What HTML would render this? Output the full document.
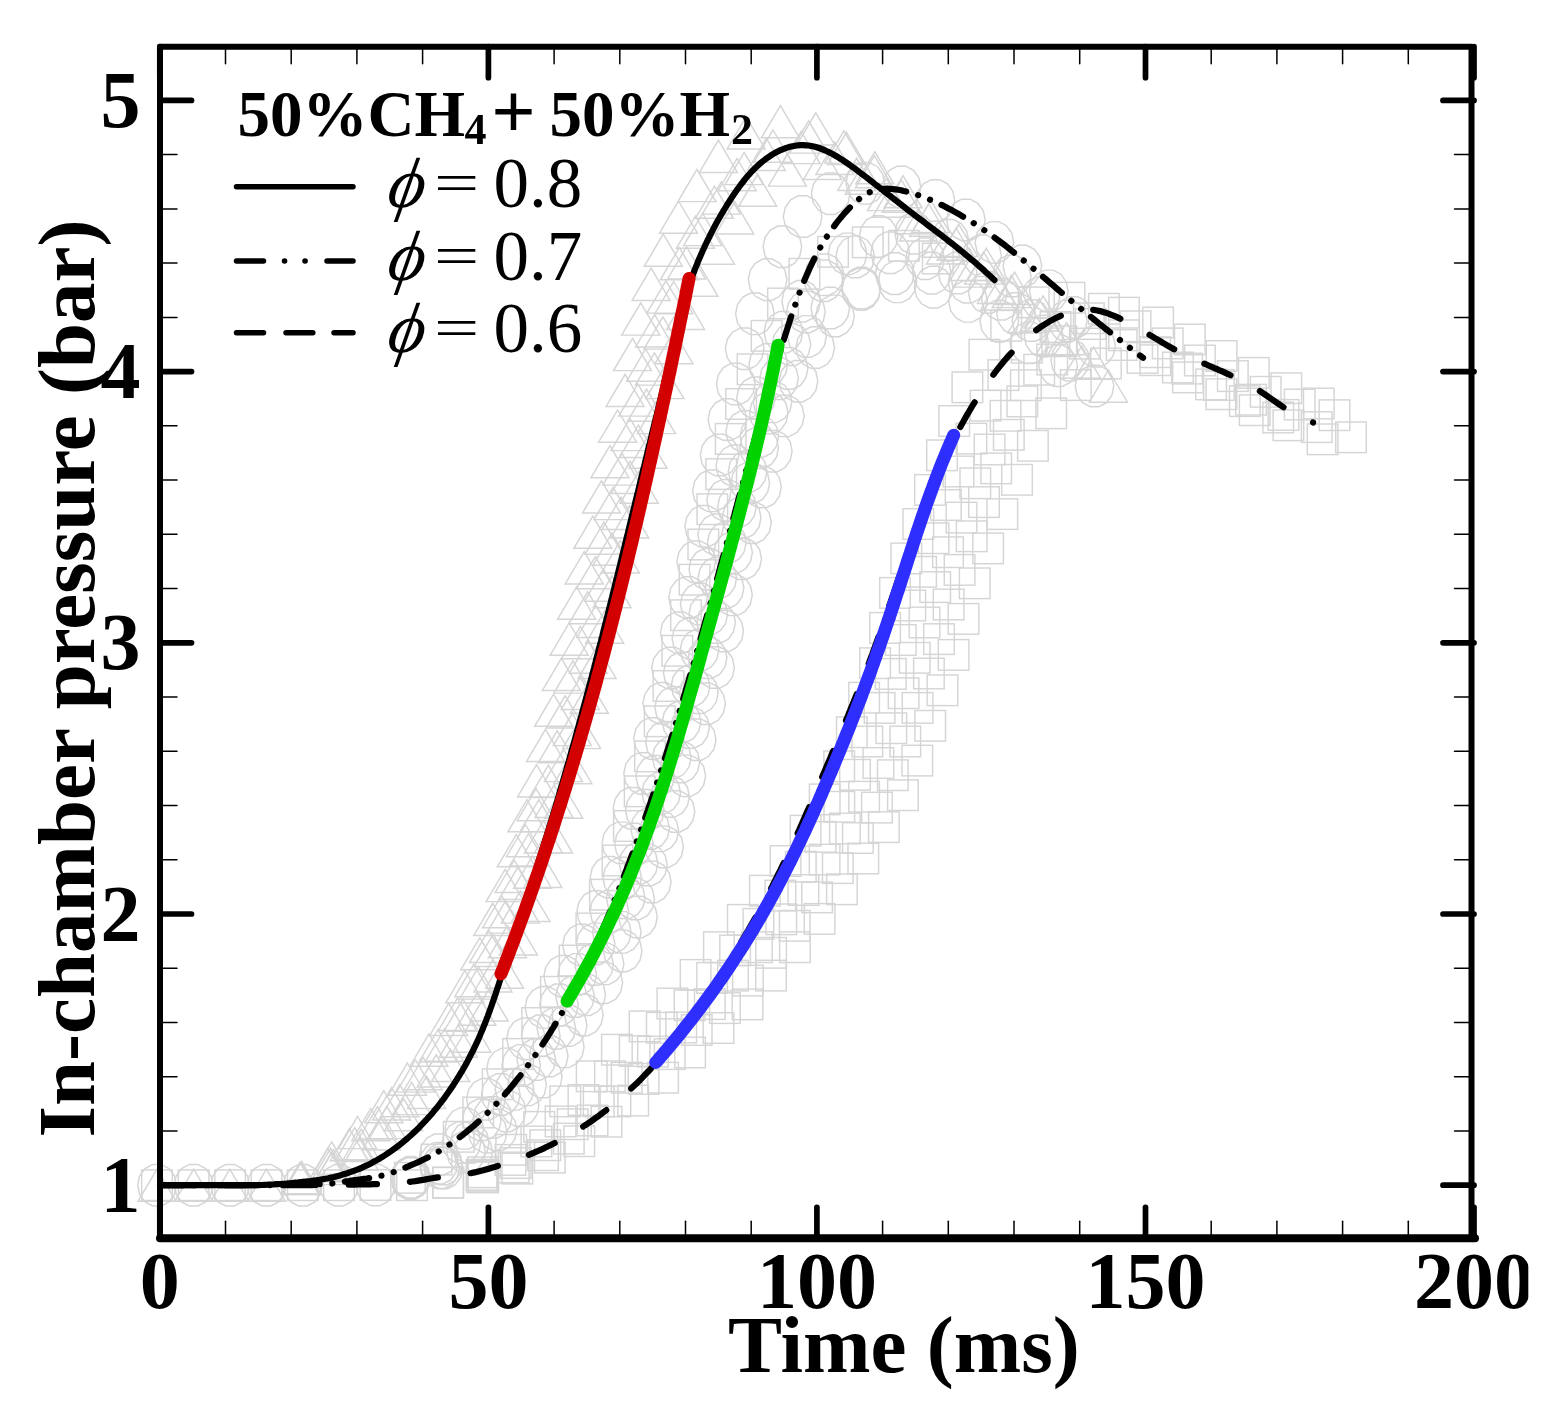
<!DOCTYPE html><html><head><meta charset="utf-8"><title>In-chamber pressure</title><style>html,body{margin:0;padding:0;background:#fff;}svg{display:block;}text{font-family:"Liberation Serif","DejaVu Serif",serif;}</style></head><body>
<svg width="1562" height="1414" viewBox="0 0 1562 1414">
<rect width="1562" height="1414" fill="#fff"/>
<g fill="none" stroke="#d5d5d5" stroke-width="1.45">
<path d="M157.0 1169.1L176.0 1201.3L138.0 1201.3Z"/>
<path d="M193.7 1169.1L212.7 1201.3L174.7 1201.3Z"/>
<path d="M229.8 1169.1L248.8 1201.3L210.8 1201.3Z"/>
<path d="M266.4 1169.1L285.4 1201.3L247.4 1201.3Z"/>
<path d="M301.6 1161.4L320.6 1193.6L282.6 1193.6Z"/>
<path d="M331.7 1141.9L350.7 1174.1L312.7 1174.1Z"/>
<path d="M357.5 1116.4L376.5 1148.6L338.5 1148.6Z"/>
<path d="M383.8 1090.6L402.8 1122.8L364.8 1122.8Z"/>
<path d="M407.4 1063.0L426.4 1095.2L388.4 1095.2Z"/>
<path d="M428.9 1034.0L447.9 1066.2L409.9 1066.2Z"/>
<path d="M448.7 1003.3L467.7 1035.5L429.7 1035.5Z"/>
<path d="M464.9 970.5L483.9 1002.7L445.9 1002.7Z"/>
<path d="M479.8 937.6L498.8 969.8L460.8 969.8Z"/>
<path d="M492.7 903.3L511.7 935.5L473.7 935.5Z"/>
<path d="M505.1 869.4L524.1 901.6L486.1 901.6Z"/>
<path d="M516.3 834.6L535.3 866.8L497.3 866.8Z"/>
<path d="M526.9 799.6L545.9 831.8L507.9 831.8Z"/>
<path d="M536.5 764.7L555.5 796.9L517.5 796.9Z"/>
<path d="M545.5 729.3L564.5 761.5L526.5 761.5Z"/>
<path d="M553.6 694.1L572.6 726.3L534.6 726.3Z"/>
<path d="M561.4 658.3L580.4 690.5L542.4 690.5Z"/>
<path d="M569.2 623.0L588.2 655.2L550.2 655.2Z"/>
<path d="M576.6 587.0L595.6 619.2L557.6 619.2Z"/>
<path d="M584.2 551.7L603.2 583.9L565.2 583.9Z"/>
<path d="M592.8 516.1L611.8 548.3L573.8 548.3Z"/>
<path d="M601.5 480.8L620.5 513.0L582.5 513.0Z"/>
<path d="M609.9 445.6L628.9 477.8L590.9 477.8Z"/>
<path d="M617.6 410.0L636.6 442.2L598.6 442.2Z"/>
<path d="M625.1 374.3L644.1 406.5L606.1 406.5Z"/>
<path d="M632.5 338.4L651.5 370.6L613.5 370.6Z"/>
<path d="M640.7 302.9L659.7 335.1L621.7 335.1Z"/>
<path d="M651.1 268.2L670.1 300.4L632.1 300.4Z"/>
<path d="M663.3 234.0L682.3 266.2L644.3 266.2Z"/>
<path d="M678.5 201.0L697.5 233.2L659.5 233.2Z"/>
<path d="M696.9 169.4L715.9 201.6L677.9 201.6Z"/>
<path d="M718.4 140.2L737.4 172.4L699.4 172.4Z"/>
<path d="M746.1 116.7L765.1 148.9L727.1 148.9Z"/>
<path d="M780.4 105.6L799.4 137.8L761.4 137.8Z"/>
<path d="M815.8 112.8L834.8 145.0L796.8 145.0Z"/>
<path d="M846.5 132.3L865.5 164.5L827.5 164.5Z"/>
<path d="M874.4 155.6L893.4 187.8L855.4 187.8Z"/>
<path d="M901.4 180.0L920.4 212.2L882.4 212.2Z"/>
<path d="M928.8 204.0L947.8 236.2L909.8 236.2Z"/>
<path d="M956.1 228.0L975.1 260.2L937.1 260.2Z"/>
<path d="M983.6 251.9L1002.6 284.1L964.6 284.1Z"/>
<path d="M1011.3 275.4L1030.3 307.6L992.3 307.6Z"/>
<path d="M1039.1 298.8L1058.1 331.0L1020.1 331.0Z"/>
<path d="M1066.6 322.6L1085.6 354.8L1047.6 354.8Z"/>
<path d="M1093.5 347.1L1112.5 379.3L1074.5 379.3Z"/>
<path d="M300.8 1162.4L319.8 1194.6L281.8 1194.6Z"/>
<path d="M330.6 1148.3L349.6 1180.5L311.6 1180.5Z"/>
<path d="M354.7 1127.6L373.7 1159.8L335.7 1159.8Z"/>
<path d="M377.5 1106.7L396.5 1138.9L358.5 1138.9Z"/>
<path d="M399.8 1084.6L418.8 1116.8L380.8 1116.8Z"/>
<path d="M423.2 1057.5L442.2 1089.7L404.2 1089.7Z"/>
<path d="M444.5 1029.0L463.5 1061.2L425.5 1061.2Z"/>
<path d="M463.0 999.0L482.0 1031.2L444.0 1031.2Z"/>
<path d="M478.5 966.9L497.5 999.1L459.5 999.1Z"/>
<path d="M493.1 934.3L512.1 966.5L474.1 966.5Z"/>
<path d="M505.6 900.9L524.6 933.1L486.6 933.1Z"/>
<path d="M517.8 867.3L536.8 899.5L498.8 899.5Z"/>
<path d="M528.5 833.7L547.5 865.9L509.5 865.9Z"/>
<path d="M538.9 799.6L557.9 831.8L519.9 831.8Z"/>
<path d="M548.4 765.2L567.4 797.4L529.4 797.4Z"/>
<path d="M557.2 730.6L576.2 762.8L538.2 762.8Z"/>
<path d="M565.2 695.8L584.2 728.0L546.2 728.0Z"/>
<path d="M572.9 660.9L591.9 693.1L553.9 693.1Z"/>
<path d="M580.4 626.5L599.4 658.7L561.4 658.7Z"/>
<path d="M587.7 591.6L606.7 623.8L568.7 623.8Z"/>
<path d="M595.3 556.6L614.3 588.8L576.3 588.8Z"/>
<path d="M603.9 522.1L622.9 554.3L584.9 554.3Z"/>
<path d="M613.0 487.4L632.0 519.6L594.0 519.6Z"/>
<path d="M621.8 452.9L640.8 485.1L602.8 485.1Z"/>
<path d="M629.9 418.4L648.9 450.6L610.9 450.6Z"/>
<path d="M637.8 383.9L656.8 416.1L618.8 416.1Z"/>
<path d="M645.6 349.0L664.6 381.2L626.6 381.2Z"/>
<path d="M654.6 314.7L673.6 346.9L635.6 346.9Z"/>
<path d="M665.9 280.9L684.9 313.1L646.9 313.1Z"/>
<path d="M679.3 247.6L698.3 279.8L660.3 279.8Z"/>
<path d="M695.4 216.1L714.4 248.3L676.4 248.3Z"/>
<path d="M714.4 186.1L733.4 218.3L695.4 218.3Z"/>
<path d="M737.1 158.5L756.1 190.7L718.1 190.7Z"/>
<path d="M766.4 138.3L785.4 170.5L747.4 170.5Z"/>
<path d="M801.1 131.4L820.1 163.6L782.1 163.6Z"/>
<path d="M834.9 142.3L853.9 174.5L815.9 174.5Z"/>
<path d="M864.1 162.1L883.1 194.3L845.1 194.3Z"/>
<path d="M891.3 185.0L910.3 217.2L872.3 217.2Z"/>
<path d="M918.4 208.7L937.4 240.9L899.4 240.9Z"/>
<path d="M945.5 231.8L964.5 264.0L926.5 264.0Z"/>
<path d="M972.4 254.9L991.4 287.1L953.4 287.1Z"/>
<path d="M999.6 277.8L1018.6 310.0L980.6 310.0Z"/>
<path d="M1027.0 300.5L1046.0 332.7L1008.0 332.7Z"/>
<path d="M1054.5 323.1L1073.5 355.3L1035.5 355.3Z"/>
<path d="M1081.6 346.1L1100.6 378.3L1062.6 378.3Z"/>
<path d="M1108.4 370.0L1127.4 402.2L1089.4 402.2Z"/>
<path d="M333.7 1149.5L352.7 1181.7L314.7 1181.7Z"/>
<path d="M361.2 1129.2L380.2 1161.4L342.2 1161.4Z"/>
<path d="M386.8 1106.4L405.8 1138.6L367.8 1138.6Z"/>
<path d="M411.7 1082.4L430.7 1114.6L392.7 1114.6Z"/>
<path d="M436.2 1054.8L455.2 1087.0L417.2 1087.0Z"/>
<path d="M458.3 1025.0L477.3 1057.2L439.3 1057.2Z"/>
<path d="M476.9 993.1L495.9 1025.3L457.9 1025.3Z"/>
<path d="M492.9 959.7L511.9 991.9L473.9 991.9Z"/>
<path d="M507.4 925.6L526.4 957.8L488.4 957.8Z"/>
<path d="M520.3 890.9L539.3 923.1L501.3 923.1Z"/>
<path d="M532.6 856.0L551.6 888.2L513.6 888.2Z"/>
<path d="M543.5 820.7L562.5 852.9L524.5 852.9Z"/>
<path d="M554.0 785.2L573.0 817.4L535.0 817.4Z"/>
<path d="M563.5 749.4L582.5 781.6L544.5 781.6Z"/>
<path d="M572.3 713.4L591.3 745.6L553.3 745.6Z"/>
<path d="M580.3 677.3L599.3 709.5L561.3 709.5Z"/>
<path d="M588.3 641.1L607.3 673.3L569.3 673.3Z"/>
<path d="M595.9 605.3L614.9 637.5L576.9 637.5Z"/>
<path d="M603.4 569.1L622.4 601.3L584.4 601.3Z"/>
<path d="M611.9 533.1L630.9 565.3L592.9 565.3Z"/>
<path d="M621.0 497.2L640.0 529.4L602.0 529.4Z"/>
<path d="M630.1 461.3L649.1 493.5L611.1 493.5Z"/>
<path d="M638.5 425.2L657.5 457.4L619.5 457.4Z"/>
<path d="M646.5 389.1L665.5 421.3L627.5 421.3Z"/>
<path d="M654.4 352.9L673.4 385.1L635.4 385.1Z"/>
<path d="M662.9 316.9L681.9 349.1L643.9 349.1Z"/>
<path d="M673.8 281.5L692.8 313.7L654.8 313.7Z"/>
<path d="M686.6 246.8L705.6 279.0L667.6 279.0Z"/>
<path d="M702.6 213.4L721.6 245.6L683.6 245.6Z"/>
<path d="M721.3 181.9L740.3 214.1L702.3 214.1Z"/>
<path d="M744.1 152.4L763.1 184.6L725.1 184.6Z"/>
<path d="M773.0 130.0L792.0 162.2L754.0 162.2Z"/>
<path d="M808.6 120.9L827.6 153.1L789.6 153.1Z"/>
<path d="M843.9 130.9L862.9 163.1L824.9 163.1Z"/>
<path d="M874.8 151.6L893.8 183.8L855.8 183.8Z"/>
<path d="M903.0 175.6L922.0 207.8L884.0 207.8Z"/>
<path d="M930.7 200.2L949.7 232.4L911.7 232.4Z"/>
<path d="M958.8 224.3L977.8 256.5L939.8 256.5Z"/>
<path d="M986.4 248.3L1005.4 280.5L967.4 280.5Z"/>
<path d="M1014.6 272.2L1033.6 304.4L995.6 304.4Z"/>
<path d="M1043.1 295.9L1062.1 328.1L1024.1 328.1Z"/>
<path d="M331.6 1152.4L350.6 1184.6L312.6 1184.6Z"/>
<path d="M359.1 1137.7L378.1 1169.9L340.1 1169.9Z"/>
<path d="M381.4 1117.8L400.4 1150.0L362.4 1150.0Z"/>
<path d="M403.6 1098.6L422.6 1130.8L384.6 1130.8Z"/>
<path d="M426.6 1076.2L445.6 1108.4L407.6 1108.4Z"/>
<path d="M450.6 1049.3L469.6 1081.5L431.6 1081.5Z"/>
<path d="M471.9 1020.0L490.9 1052.2L452.9 1052.2Z"/>
<path d="M489.1 988.8L508.1 1021.0L470.1 1021.0Z"/>
<path d="M504.6 956.1L523.6 988.3L485.6 988.3Z"/>
<path d="M518.4 922.7L537.4 954.9L499.4 954.9Z"/>
<path d="M530.9 889.3L549.9 921.5L511.9 921.5Z"/>
<path d="M542.9 855.2L561.9 887.4L523.9 887.4Z"/>
<path d="M553.5 820.7L572.5 852.9L534.5 852.9Z"/>
<path d="M563.8 786.0L582.8 818.2L544.8 818.2Z"/>
<path d="M572.9 751.5L591.9 783.7L553.9 783.7Z"/>
<path d="M581.6 716.4L600.6 748.6L562.6 748.6Z"/>
<path d="M589.4 681.1L608.4 713.3L570.4 713.3Z"/>
<path d="M597.1 646.3L616.1 678.5L578.1 678.5Z"/>
<path d="M604.7 611.0L623.7 643.2L585.7 643.2Z"/>
<path d="M612.1 575.6L631.1 607.8L593.1 607.8Z"/>
<path d="M620.4 540.7L639.4 572.9L601.4 572.9Z"/>
<path d="M629.7 505.7L648.7 537.9L610.7 537.9Z"/>
<path d="M639.2 471.0L658.2 503.2L620.2 503.2Z"/>
<path d="M648.0 436.1L667.0 468.3L629.0 468.3Z"/>
<path d="M656.4 401.4L675.4 433.6L637.4 433.6Z"/>
<path d="M664.8 366.4L683.8 398.6L645.8 398.6Z"/>
<path d="M673.9 331.5L692.9 363.7L654.9 363.7Z"/>
<path d="M685.6 297.2L704.6 329.4L666.6 329.4Z"/>
<path d="M699.0 264.1L718.0 296.3L680.0 296.3Z"/>
<path d="M715.5 232.0L734.5 264.2L696.5 264.2Z"/>
<path d="M734.8 201.7L753.8 233.9L715.8 233.9Z"/>
<path d="M757.7 174.1L776.7 206.3L738.7 206.3Z"/>
<path d="M787.4 153.9L806.4 186.1L768.4 186.1Z"/>
<path d="M822.5 147.2L841.5 179.4L803.5 179.4Z"/>
<path d="M856.7 158.3L875.7 190.5L837.7 190.5Z"/>
<path d="M886.5 178.4L905.5 210.6L867.5 210.6Z"/>
<path d="M914.3 201.6L933.3 233.8L895.3 233.8Z"/>
<path d="M941.4 225.0L960.4 257.2L922.4 257.2Z"/>
<path d="M969.1 248.2L988.1 280.4L950.1 280.4Z"/>
<path d="M996.4 271.3L1015.4 303.5L977.4 303.5Z"/>
<path d="M299.9 1162.4L318.9 1194.6L280.9 1194.6Z"/>
<path d="M327.8 1148.3L346.8 1180.5L308.8 1180.5Z"/>
<path d="M349.3 1128.6L368.3 1160.8L330.3 1160.8Z"/>
<path d="M370.8 1108.5L389.8 1140.7L351.8 1140.7Z"/>
<path d="M391.6 1087.8L410.6 1120.0L372.6 1120.0Z"/>
<path d="M415.5 1059.9L434.5 1092.1L396.5 1092.1Z"/>
<path d="M438.0 1029.7L457.0 1061.9L419.0 1061.9Z"/>
<path d="M457.4 998.2L476.4 1030.4L438.4 1030.4Z"/>
<path d="M473.7 964.5L492.7 996.7L454.7 996.7Z"/>
<path d="M488.6 930.2L507.6 962.4L469.6 962.4Z"/>
<path d="M501.6 895.5L520.6 927.7L482.6 927.7Z"/>
<path d="M514.2 860.2L533.2 892.4L495.2 892.4Z"/>
<path d="M525.4 824.5L544.4 856.7L506.4 856.7Z"/>
<path d="M536.1 788.6L555.1 820.8L517.1 820.8Z"/>
<path d="M137.7 1185.2L139.6 1176.0L145.0 1168.5L152.7 1164.4L161.3 1164.4L169.0 1168.5L174.4 1176.0L176.3 1185.2L174.4 1194.4L169.0 1201.9L161.3 1206.0L152.7 1206.0L145.0 1201.9L139.6 1194.4Z"/>
<path d="M174.3 1185.2L176.2 1176.0L181.6 1168.5L189.3 1164.4L197.9 1164.4L205.7 1168.5L211.0 1176.0L212.9 1185.2L211.0 1194.4L205.7 1201.9L197.9 1206.0L189.3 1206.0L181.6 1201.9L176.2 1194.4Z"/>
<path d="M210.8 1185.2L212.8 1176.0L218.1 1168.5L225.8 1164.4L234.4 1164.4L242.2 1168.5L247.5 1176.0L249.4 1185.2L247.5 1194.4L242.2 1201.9L234.4 1206.0L225.8 1206.0L218.1 1201.9L212.8 1194.4Z"/>
<path d="M247.2 1185.2L249.1 1176.0L254.5 1168.5L262.2 1164.4L270.8 1164.4L278.6 1168.5L283.9 1176.0L285.8 1185.2L283.9 1194.4L278.6 1201.9L270.8 1206.0L262.2 1206.0L254.5 1201.9L249.1 1194.4Z"/>
<path d="M283.5 1185.2L285.4 1176.0L290.8 1168.5L298.5 1164.4L307.1 1164.4L314.9 1168.5L320.2 1176.0L322.1 1185.2L320.2 1194.4L314.9 1201.9L307.1 1206.0L298.5 1206.0L290.8 1201.9L285.4 1194.4Z"/>
<path d="M319.7 1185.2L321.6 1176.0L327.0 1168.5L334.7 1164.4L343.3 1164.4L351.1 1168.5L356.4 1176.0L358.3 1185.2L356.4 1194.4L351.1 1201.9L343.3 1206.0L334.7 1206.0L327.0 1201.9L321.6 1194.4Z"/>
<path d="M356.2 1185.0L358.1 1175.8L363.5 1168.4L371.2 1164.2L379.8 1164.2L387.6 1168.4L392.9 1175.8L394.8 1185.0L392.9 1194.2L387.6 1201.7L379.8 1205.8L371.2 1205.8L363.5 1201.7L358.1 1194.2Z"/>
<path d="M391.6 1177.2L393.5 1168.0L398.9 1160.6L406.6 1156.5L415.2 1156.5L422.9 1160.6L428.3 1168.0L430.2 1177.2L428.3 1186.5L422.9 1193.9L415.2 1198.0L406.6 1198.0L398.9 1193.9L393.5 1186.5Z"/>
<path d="M419.5 1154.8L421.5 1145.5L426.8 1138.1L434.5 1134.0L443.1 1134.0L450.9 1138.1L456.2 1145.5L458.1 1154.8L456.2 1164.0L450.9 1171.4L443.1 1175.5L434.5 1175.5L426.8 1171.4L421.5 1164.0Z"/>
<path d="M445.0 1128.4L446.9 1119.1L452.3 1111.7L460.0 1107.6L468.6 1107.6L476.3 1111.7L481.7 1119.1L483.6 1128.4L481.7 1137.6L476.3 1145.0L468.6 1149.1L460.0 1149.1L452.3 1145.0L446.9 1137.6Z"/>
<path d="M466.6 1099.2L468.5 1089.9L473.9 1082.5L481.6 1078.4L490.2 1078.4L498.0 1082.5L503.3 1089.9L505.2 1099.2L503.3 1108.4L498.0 1115.8L490.2 1120.0L481.6 1120.0L473.9 1115.8L468.5 1108.4Z"/>
<path d="M486.7 1068.8L488.6 1059.6L493.9 1052.2L501.7 1048.1L510.3 1048.1L518.0 1052.2L523.4 1059.6L525.3 1068.8L523.4 1078.1L518.0 1085.5L510.3 1089.6L501.7 1089.6L493.9 1085.5L488.6 1078.1Z"/>
<path d="M506.7 1038.7L508.6 1029.4L513.9 1022.0L521.7 1017.9L530.3 1017.9L538.0 1022.0L543.4 1029.4L545.3 1038.7L543.4 1047.9L538.0 1055.3L530.3 1059.4L521.7 1059.4L513.9 1055.3L508.6 1047.9Z"/>
<path d="M525.1 1007.3L527.0 998.1L532.4 990.7L540.1 986.5L548.7 986.5L556.5 990.7L561.8 998.1L563.7 1007.3L561.8 1016.6L556.5 1024.0L548.7 1028.1L540.1 1028.1L532.4 1024.0L527.0 1016.6Z"/>
<path d="M543.9 976.1L545.8 966.9L551.1 959.5L558.9 955.4L567.5 955.4L575.2 959.5L580.6 966.9L582.5 976.1L580.6 985.4L575.2 992.8L567.5 996.9L558.9 996.9L551.1 992.8L545.8 985.4Z"/>
<path d="M562.7 945.0L564.6 935.8L570.0 928.4L577.7 924.3L586.3 924.3L594.0 928.4L599.4 935.8L601.3 945.0L599.4 954.3L594.0 961.7L586.3 965.8L577.7 965.8L570.0 961.7L564.6 954.3Z"/>
<path d="M576.9 911.5L578.8 902.3L584.2 894.9L591.9 890.8L600.5 890.8L608.2 894.9L613.6 902.3L615.5 911.5L613.6 920.8L608.2 928.2L600.5 932.3L591.9 932.3L584.2 928.2L578.8 920.8Z"/>
<path d="M590.2 877.3L592.2 868.0L597.5 860.6L605.2 856.5L613.8 856.5L621.6 860.6L626.9 868.0L628.8 877.3L626.9 886.5L621.6 893.9L613.8 898.0L605.2 898.0L597.5 893.9L592.2 886.5Z"/>
<path d="M602.1 842.9L604.0 833.6L609.4 826.2L617.1 822.1L625.7 822.1L633.4 826.2L638.8 833.6L640.7 842.9L638.8 852.1L633.4 859.5L625.7 863.6L617.1 863.6L609.4 859.5L604.0 852.1Z"/>
<path d="M613.2 808.2L615.1 799.0L620.4 791.6L628.2 787.5L636.8 787.5L644.5 791.6L649.8 799.0L651.8 808.2L649.8 817.5L644.5 824.9L636.8 829.0L628.2 829.0L620.4 824.9L615.1 817.5Z"/>
<path d="M623.8 773.4L625.7 764.2L631.0 756.8L638.8 752.7L647.4 752.7L655.1 756.8L660.5 764.2L662.4 773.4L660.5 782.7L655.1 790.1L647.4 794.2L638.8 794.2L631.0 790.1L625.7 782.7Z"/>
<path d="M633.7 738.5L635.7 729.2L641.0 721.8L648.8 717.7L657.3 717.7L665.1 721.8L670.4 729.2L672.3 738.5L670.4 747.7L665.1 755.1L657.3 759.2L648.8 759.2L641.0 755.1L635.7 747.7Z"/>
<path d="M642.9 703.3L644.9 694.0L650.2 686.6L658.0 682.5L666.5 682.5L674.3 686.6L679.6 694.0L681.5 703.3L679.6 712.5L674.3 719.9L666.5 724.0L658.0 724.0L650.2 719.9L644.9 712.5Z"/>
<path d="M651.7 668.0L653.6 658.7L659.0 651.3L666.7 647.2L675.3 647.2L683.1 651.3L688.4 658.7L690.3 668.0L688.4 677.2L683.1 684.6L675.3 688.8L666.7 688.8L659.0 684.6L653.6 677.2Z"/>
<path d="M660.5 632.7L662.4 623.4L667.7 616.0L675.5 611.9L684.1 611.9L691.8 616.0L697.2 623.4L699.1 632.7L697.2 641.9L691.8 649.3L684.1 653.5L675.5 653.5L667.7 649.3L662.4 641.9Z"/>
<path d="M668.8 597.4L670.7 588.2L676.0 580.8L683.8 576.7L692.4 576.7L700.1 580.8L705.5 588.2L707.4 597.4L705.5 606.7L700.1 614.1L692.4 618.2L683.8 618.2L676.0 614.1L670.7 606.7Z"/>
<path d="M676.9 561.6L678.8 552.4L684.2 545.0L691.9 540.9L700.5 540.9L708.2 545.0L713.6 552.4L715.5 561.6L713.6 570.9L708.2 578.3L700.5 582.4L691.9 582.4L684.2 578.3L678.8 570.9Z"/>
<path d="M684.9 526.2L686.8 517.0L692.1 509.6L699.9 505.4L708.5 505.4L716.2 509.6L721.6 517.0L723.5 526.2L721.6 535.5L716.2 542.9L708.5 547.0L699.9 547.0L692.1 542.9L686.8 535.5Z"/>
<path d="M692.6 490.8L694.5 481.6L699.9 474.1L707.6 470.0L716.2 470.0L724.0 474.1L729.3 481.6L731.2 490.8L729.3 500.0L724.0 507.5L716.2 511.6L707.6 511.6L699.9 507.5L694.5 500.0Z"/>
<path d="M700.3 455.0L702.2 445.8L707.6 438.4L715.3 434.3L723.9 434.3L731.7 438.4L737.0 445.8L738.9 455.0L737.0 464.3L731.7 471.7L723.9 475.8L715.3 475.8L707.6 471.7L702.2 464.3Z"/>
<path d="M708.1 419.5L710.0 410.3L715.4 402.9L723.1 398.8L731.7 398.8L739.4 402.9L744.8 410.3L746.7 419.5L744.8 428.8L739.4 436.2L731.7 440.3L723.1 440.3L715.4 436.2L710.0 428.8Z"/>
<path d="M716.4 384.0L718.3 374.8L723.7 367.4L731.4 363.2L740.0 363.2L747.8 367.4L753.1 374.8L755.0 384.0L753.1 393.3L747.8 400.7L740.0 404.8L731.4 404.8L723.7 400.7L718.3 393.3Z"/>
<path d="M725.4 348.6L727.3 339.4L732.6 332.0L740.4 327.9L748.9 327.9L756.7 332.0L762.0 339.4L764.0 348.6L762.0 357.9L756.7 365.3L748.9 369.4L740.4 369.4L732.6 365.3L727.3 357.9Z"/>
<path d="M735.6 313.8L737.5 304.6L742.9 297.1L750.6 293.0L759.2 293.0L766.9 297.1L772.3 304.6L774.2 313.8L772.3 323.0L766.9 330.5L759.2 334.6L750.6 334.6L742.9 330.5L737.5 323.0Z"/>
<path d="M748.3 279.6L750.2 270.4L755.5 263.0L763.3 258.8L771.9 258.8L779.6 263.0L785.0 270.4L786.9 279.6L785.0 288.9L779.6 296.3L771.9 300.4L763.3 300.4L755.5 296.3L750.2 288.9Z"/>
<path d="M763.1 246.7L765.0 237.5L770.3 230.1L778.1 226.0L786.7 226.0L794.4 230.1L799.8 237.5L801.7 246.7L799.8 256.0L794.4 263.4L786.7 267.5L778.1 267.5L770.3 263.4L765.0 256.0Z"/>
<path d="M783.3 216.6L785.3 207.3L790.6 199.9L798.3 195.8L806.9 195.8L814.7 199.9L820.0 207.3L821.9 216.6L820.0 225.8L814.7 233.2L806.9 237.3L798.3 237.3L790.6 233.2L785.3 225.8Z"/>
<path d="M811.4 193.7L813.3 184.4L818.6 177.0L826.4 172.9L835.0 172.9L842.7 177.0L848.1 184.4L850.0 193.7L848.1 202.9L842.7 210.3L835.0 214.4L826.4 214.4L818.6 210.3L813.3 202.9Z"/>
<path d="M846.0 183.4L848.0 174.1L853.3 166.7L861.1 162.6L869.6 162.6L877.4 166.7L882.7 174.1L884.6 183.4L882.7 192.6L877.4 200.0L869.6 204.1L861.1 204.1L853.3 200.0L848.0 192.6Z"/>
<path d="M882.2 187.0L884.1 177.7L889.4 170.3L897.2 166.2L905.8 166.2L913.5 170.3L918.9 177.7L920.8 187.0L918.9 196.2L913.5 203.6L905.8 207.8L897.2 207.8L889.4 203.6L884.1 196.2Z"/>
<path d="M916.1 200.4L918.0 191.2L923.4 183.8L931.1 179.7L939.7 179.7L947.5 183.8L952.8 191.2L954.7 200.4L952.8 209.7L947.5 217.1L939.7 221.2L931.1 221.2L923.4 217.1L918.0 209.7Z"/>
<path d="M946.6 219.9L948.5 210.7L953.9 203.3L961.6 199.2L970.2 199.2L977.9 203.3L983.3 210.7L985.2 219.9L983.3 229.2L977.9 236.6L970.2 240.7L961.6 240.7L953.9 236.6L948.5 229.2Z"/>
<path d="M975.1 242.4L977.0 233.1L982.4 225.7L990.1 221.6L998.7 221.6L1006.4 225.7L1011.8 233.1L1013.7 242.4L1011.8 251.6L1006.4 259.0L998.7 263.1L990.1 263.1L982.4 259.0L977.0 251.6Z"/>
<path d="M1003.1 266.0L1005.0 256.8L1010.4 249.4L1018.1 245.3L1026.7 245.3L1034.4 249.4L1039.8 256.8L1041.7 266.0L1039.8 275.3L1034.4 282.7L1026.7 286.8L1018.1 286.8L1010.4 282.7L1005.0 275.3Z"/>
<path d="M1029.5 290.9L1031.4 281.7L1036.8 274.2L1044.5 270.1L1053.1 270.1L1060.9 274.2L1066.2 281.7L1068.1 290.9L1066.2 300.1L1060.9 307.6L1053.1 311.7L1044.5 311.7L1036.8 307.6L1031.4 300.1Z"/>
<path d="M1054.3 317.5L1056.2 308.2L1061.5 300.8L1069.3 296.7L1077.9 296.7L1085.6 300.8L1091.0 308.2L1092.9 317.5L1091.0 326.7L1085.6 334.1L1077.9 338.2L1069.3 338.2L1061.5 334.1L1056.2 326.7Z"/>
<path d="M1076.7 346.1L1078.6 336.9L1083.9 329.5L1091.7 325.4L1100.3 325.4L1108.0 329.5L1113.4 336.9L1115.3 346.1L1113.4 355.4L1108.0 362.8L1100.3 366.9L1091.7 366.9L1083.9 362.8L1078.6 355.4Z"/>
<path d="M390.7 1178.3L392.7 1169.1L398.0 1161.6L405.8 1157.5L414.3 1157.5L422.1 1161.6L427.4 1169.1L429.3 1178.3L427.4 1187.5L422.1 1195.0L414.3 1199.1L405.8 1199.1L398.0 1195.0L392.7 1187.5Z"/>
<path d="M419.2 1163.2L421.2 1154.0L426.5 1146.5L434.3 1142.4L442.8 1142.4L450.6 1146.5L455.9 1154.0L457.8 1163.2L455.9 1172.4L450.6 1179.9L442.8 1184.0L434.3 1184.0L426.5 1179.9L421.2 1172.4Z"/>
<path d="M442.2 1142.5L444.1 1133.2L449.5 1125.8L457.2 1121.7L465.8 1121.7L473.6 1125.8L478.9 1133.2L480.8 1142.5L478.9 1151.7L473.6 1159.1L465.8 1163.3L457.2 1163.3L449.5 1159.1L444.1 1151.7Z"/>
<path d="M462.5 1119.8L464.4 1110.5L469.8 1103.1L477.5 1099.0L486.1 1099.0L493.8 1103.1L499.2 1110.5L501.1 1119.8L499.2 1129.0L493.8 1136.4L486.1 1140.5L477.5 1140.5L469.8 1136.4L464.4 1129.0Z"/>
<path d="M481.5 1094.4L483.4 1085.2L488.8 1077.8L496.5 1073.7L505.1 1073.7L512.9 1077.8L518.2 1085.2L520.1 1094.4L518.2 1103.7L512.9 1111.1L505.1 1115.2L496.5 1115.2L488.8 1111.1L483.4 1103.7Z"/>
<path d="M501.9 1065.4L503.8 1056.2L509.2 1048.8L516.9 1044.6L525.5 1044.6L533.2 1048.8L538.6 1056.2L540.5 1065.4L538.6 1074.7L533.2 1082.1L525.5 1086.2L516.9 1086.2L509.2 1082.1L503.8 1074.7Z"/>
<path d="M521.5 1035.8L523.4 1026.5L528.7 1019.1L536.5 1015.0L545.0 1015.0L552.8 1019.1L558.1 1026.5L560.1 1035.8L558.1 1045.0L552.8 1052.4L545.0 1056.5L536.5 1056.5L528.7 1052.4L523.4 1045.0Z"/>
<path d="M539.7 1004.8L541.6 995.5L546.9 988.1L554.7 984.0L563.3 984.0L571.0 988.1L576.4 995.5L578.3 1004.8L576.4 1014.0L571.0 1021.4L563.3 1025.6L554.7 1025.6L546.9 1021.4L541.6 1014.0Z"/>
<path d="M557.9 974.3L559.9 965.1L565.2 957.7L573.0 953.6L581.5 953.6L589.3 957.7L594.6 965.1L596.5 974.3L594.6 983.6L589.3 991.0L581.5 995.1L573.0 995.1L565.2 991.0L559.9 983.6Z"/>
<path d="M576.3 943.9L578.2 934.7L583.5 927.2L591.3 923.1L599.8 923.1L607.6 927.2L612.9 934.7L614.9 943.9L612.9 953.1L607.6 960.6L599.8 964.7L591.3 964.7L583.5 960.6L578.2 953.1Z"/>
<path d="M590.0 911.1L592.0 901.9L597.3 894.5L605.1 890.4L613.6 890.4L621.4 894.5L626.7 901.9L628.6 911.1L626.7 920.4L621.4 927.8L613.6 931.9L605.1 931.9L597.3 927.8L592.0 920.4Z"/>
<path d="M602.9 878.0L604.9 868.8L610.2 861.4L618.0 857.3L626.5 857.3L634.3 861.4L639.6 868.8L641.5 878.0L639.6 887.3L634.3 894.7L626.5 898.8L618.0 898.8L610.2 894.7L604.9 887.3Z"/>
<path d="M614.7 844.1L616.6 834.8L622.0 827.4L629.7 823.3L638.3 823.3L646.0 827.4L651.4 834.8L653.3 844.1L651.4 853.3L646.0 860.7L638.3 864.8L629.7 864.8L622.0 860.7L616.6 853.3Z"/>
<path d="M625.5 810.2L627.4 801.0L632.8 793.6L640.5 789.5L649.1 789.5L656.9 793.6L662.2 801.0L664.1 810.2L662.2 819.5L656.9 826.9L649.1 831.0L640.5 831.0L632.8 826.9L627.4 819.5Z"/>
<path d="M635.9 776.3L637.8 767.0L643.2 759.6L650.9 755.5L659.5 755.5L667.3 759.6L672.6 767.0L674.5 776.3L672.6 785.5L667.3 792.9L659.5 797.0L650.9 797.0L643.2 792.9L637.8 785.5Z"/>
<path d="M645.7 742.1L647.6 732.9L653.0 725.5L660.7 721.4L669.3 721.4L677.1 725.5L682.4 732.9L684.3 742.1L682.4 751.4L677.1 758.8L669.3 762.9L660.7 762.9L653.0 758.8L647.6 751.4Z"/>
<path d="M654.9 707.4L656.8 698.1L662.2 690.7L669.9 686.6L678.5 686.6L686.3 690.7L691.6 698.1L693.5 707.4L691.6 716.6L686.3 724.0L678.5 728.2L669.9 728.2L662.2 724.0L656.8 716.6Z"/>
<path d="M663.5 672.9L665.4 663.7L670.7 656.3L678.5 652.1L687.1 652.1L694.8 656.3L700.2 663.7L702.1 672.9L700.2 682.1L694.8 689.6L687.1 693.7L678.5 693.7L670.7 689.6L665.4 682.1Z"/>
<path d="M672.1 638.4L674.0 629.2L679.3 621.8L687.1 617.7L695.7 617.7L703.4 621.8L708.8 629.2L710.7 638.4L708.8 647.7L703.4 655.1L695.7 659.2L687.1 659.2L679.3 655.1L674.0 647.7Z"/>
<path d="M680.4 604.0L682.3 594.8L687.7 587.3L695.4 583.2L704.0 583.2L711.7 587.3L717.1 594.8L719.0 604.0L717.1 613.2L711.7 620.6L704.0 624.8L695.4 624.8L687.7 620.6L682.3 613.2Z"/>
<path d="M689.0 569.2L690.9 560.0L696.2 552.6L704.0 548.5L712.6 548.5L720.3 552.6L725.6 560.0L727.6 569.2L725.6 578.5L720.3 585.9L712.6 590.0L704.0 590.0L696.2 585.9L690.9 578.5Z"/>
<path d="M697.8 534.6L699.7 525.4L705.0 518.0L712.8 513.9L721.4 513.9L729.1 518.0L734.5 525.4L736.4 534.6L734.5 543.9L729.1 551.3L721.4 555.4L712.8 555.4L705.0 551.3L699.7 543.9Z"/>
<path d="M706.8 500.2L708.7 491.0L714.0 483.6L721.8 479.4L730.3 479.4L738.1 483.6L743.4 491.0L745.4 500.2L743.4 509.5L738.1 516.9L730.3 521.0L721.8 521.0L714.0 516.9L708.7 509.5Z"/>
<path d="M716.0 465.8L717.9 456.6L723.2 449.2L731.0 445.0L739.6 445.0L747.3 449.2L752.7 456.6L754.6 465.8L752.7 475.0L747.3 482.5L739.6 486.6L731.0 486.6L723.2 482.5L717.9 475.0Z"/>
<path d="M725.9 431.6L727.8 422.3L733.1 414.9L740.9 410.8L749.4 410.8L757.2 414.9L762.5 422.3L764.5 431.6L762.5 440.8L757.2 448.2L749.4 452.3L740.9 452.3L733.1 448.2L727.8 440.8Z"/>
<path d="M736.7 397.8L738.6 388.6L743.9 381.1L751.7 377.0L760.3 377.0L768.0 381.1L773.3 388.6L775.3 397.8L773.3 407.0L768.0 414.5L760.3 418.6L751.7 418.6L743.9 414.5L738.6 407.0Z"/>
<path d="M749.0 364.5L750.9 355.2L756.3 347.8L764.0 343.7L772.6 343.7L780.4 347.8L785.7 355.2L787.6 364.5L785.7 373.7L780.4 381.1L772.6 385.2L764.0 385.2L756.3 381.1L750.9 373.7Z"/>
<path d="M764.1 332.2L766.0 322.9L771.4 315.5L779.1 311.4L787.7 311.4L795.4 315.5L800.8 322.9L802.7 332.2L800.8 341.4L795.4 348.8L787.7 352.9L779.1 352.9L771.4 348.8L766.0 341.4Z"/>
<path d="M781.9 301.3L783.8 292.0L789.2 284.6L796.9 280.5L805.5 280.5L813.2 284.6L818.6 292.0L820.5 301.3L818.6 310.5L813.2 317.9L805.5 322.0L796.9 322.0L789.2 317.9L783.8 310.5Z"/>
<path d="M805.2 274.7L807.1 265.4L812.5 258.0L820.2 253.9L828.8 253.9L836.6 258.0L841.9 265.4L843.8 274.7L841.9 283.9L836.6 291.3L828.8 295.4L820.2 295.4L812.5 291.3L807.1 283.9Z"/>
<path d="M835.9 256.9L837.8 247.7L843.1 240.2L850.9 236.1L859.5 236.1L867.2 240.2L872.6 247.7L874.5 256.9L872.6 266.1L867.2 273.5L859.5 277.7L850.9 277.7L843.1 273.5L837.8 266.1Z"/>
<path d="M870.9 252.6L872.8 243.4L878.2 236.0L885.9 231.9L894.5 231.9L902.2 236.0L907.6 243.4L909.5 252.6L907.6 261.9L902.2 269.3L894.5 273.4L885.9 273.4L878.2 269.3L872.8 261.9Z"/>
<path d="M905.8 258.6L907.7 249.4L913.1 242.0L920.8 237.9L929.4 237.9L937.1 242.0L942.5 249.4L944.4 258.6L942.5 267.9L937.1 275.3L929.4 279.4L920.8 279.4L913.1 275.3L907.7 267.9Z"/>
<path d="M938.4 273.0L940.3 263.7L945.7 256.3L953.4 252.2L962.0 252.2L969.8 256.3L975.1 263.7L977.0 273.0L975.1 282.2L969.8 289.6L962.0 293.7L953.4 293.7L945.7 289.6L940.3 282.2Z"/>
<path d="M968.4 292.5L970.3 283.3L975.6 275.9L983.4 271.8L992.0 271.8L999.7 275.9L1005.1 283.3L1007.0 292.5L1005.1 301.8L999.7 309.2L992.0 313.3L983.4 313.3L975.6 309.2L970.3 301.8Z"/>
<path d="M996.7 313.6L998.6 304.4L1004.0 296.9L1011.7 292.8L1020.3 292.8L1028.0 296.9L1033.4 304.4L1035.3 313.6L1033.4 322.8L1028.0 330.2L1020.3 334.4L1011.7 334.4L1004.0 330.2L998.6 322.8Z"/>
<path d="M1024.3 336.1L1026.2 326.8L1031.6 319.4L1039.3 315.3L1047.9 315.3L1055.7 319.4L1061.0 326.8L1062.9 336.1L1061.0 345.3L1055.7 352.7L1047.9 356.8L1039.3 356.8L1031.6 352.7L1026.2 345.3Z"/>
<path d="M1050.9 360.2L1052.8 351.0L1058.2 343.6L1065.9 339.4L1074.5 339.4L1082.3 343.6L1087.6 351.0L1089.5 360.2L1087.6 369.4L1082.3 376.9L1074.5 381.0L1065.9 381.0L1058.2 376.9L1052.8 369.4Z"/>
<path d="M1075.2 385.9L1077.1 376.7L1082.5 369.3L1090.2 365.2L1098.8 365.2L1106.5 369.3L1111.9 376.7L1113.8 385.9L1111.9 395.2L1106.5 402.6L1098.8 406.7L1090.2 406.7L1082.5 402.6L1077.1 395.2Z"/>
<path d="M391.5 1178.5L393.4 1169.3L398.8 1161.9L406.5 1157.8L415.1 1157.8L422.8 1161.9L428.2 1169.3L430.1 1178.5L428.2 1187.8L422.8 1195.2L415.1 1199.3L406.5 1199.3L398.8 1195.2L393.4 1187.8Z"/>
<path d="M423.6 1163.9L425.5 1154.7L430.9 1147.2L438.6 1143.1L447.2 1143.1L454.9 1147.2L460.3 1154.7L462.2 1163.9L460.3 1173.1L454.9 1180.6L447.2 1184.7L438.6 1184.7L430.9 1180.6L425.5 1173.1Z"/>
<path d="M450.4 1142.5L452.3 1133.2L457.7 1125.8L465.4 1121.7L474.0 1121.7L481.7 1125.8L487.1 1133.2L489.0 1142.5L487.1 1151.7L481.7 1159.1L474.0 1163.3L465.4 1163.3L457.7 1159.1L452.3 1151.7Z"/>
<path d="M473.4 1117.5L475.3 1108.2L480.7 1100.8L488.4 1096.7L497.0 1096.7L504.7 1100.8L510.1 1108.2L512.0 1117.5L510.1 1126.7L504.7 1134.1L497.0 1138.2L488.4 1138.2L480.7 1134.1L475.3 1126.7Z"/>
<path d="M495.2 1089.3L497.1 1080.1L502.5 1072.6L510.2 1068.5L518.8 1068.5L526.6 1072.6L531.9 1080.1L533.8 1089.3L531.9 1098.5L526.6 1106.0L518.8 1110.1L510.2 1110.1L502.5 1106.0L497.1 1098.5Z"/>
<path d="M517.0 1059.5L518.9 1050.3L524.3 1042.9L532.0 1038.8L540.6 1038.8L548.4 1042.9L553.7 1050.3L555.6 1059.5L553.7 1068.8L548.4 1076.2L540.6 1080.3L532.0 1080.3L524.3 1076.2L518.9 1068.8Z"/>
<path d="M537.0 1028.1L538.9 1018.9L544.2 1011.5L552.0 1007.4L560.6 1007.4L568.3 1011.5L573.7 1018.9L575.6 1028.1L573.7 1037.4L568.3 1044.8L560.6 1048.9L552.0 1048.9L544.2 1044.8L538.9 1037.4Z"/>
<path d="M555.8 996.5L557.7 987.3L563.0 979.8L570.8 975.7L579.4 975.7L587.1 979.8L592.4 987.3L594.4 996.5L592.4 1005.7L587.1 1013.1L579.4 1017.3L570.8 1017.3L563.0 1013.1L557.7 1005.7Z"/>
<path d="M574.8 964.5L576.7 955.3L582.1 947.9L589.8 943.8L598.4 943.8L606.2 947.9L611.5 955.3L613.4 964.5L611.5 973.8L606.2 981.2L598.4 985.3L589.8 985.3L582.1 981.2L576.7 973.8Z"/>
<path d="M592.5 932.4L594.4 923.1L599.8 915.7L607.5 911.6L616.1 911.6L623.8 915.7L629.2 923.1L631.1 932.4L629.2 941.6L623.8 949.0L616.1 953.1L607.5 953.1L599.8 949.0L594.4 941.6Z"/>
<path d="M606.4 897.8L608.3 888.6L613.7 881.1L621.4 877.0L630.0 877.0L637.7 881.1L643.1 888.6L645.0 897.8L643.1 907.0L637.7 914.5L630.0 918.6L621.4 918.6L613.7 914.5L608.3 907.0Z"/>
<path d="M619.2 863.3L621.1 854.1L626.5 846.7L634.2 842.5L642.8 842.5L650.5 846.7L655.9 854.1L657.8 863.3L655.9 872.6L650.5 880.0L642.8 884.1L634.2 884.1L626.5 880.0L621.1 872.6Z"/>
<path d="M630.8 828.4L632.7 819.2L638.1 811.7L645.8 807.6L654.4 807.6L662.1 811.7L667.5 819.2L669.4 828.4L667.5 837.6L662.1 845.1L654.4 849.2L645.8 849.2L638.1 845.1L632.7 837.6Z"/>
<path d="M641.9 792.9L643.8 783.6L649.2 776.2L656.9 772.1L665.5 772.1L673.2 776.2L678.6 783.6L680.5 792.9L678.6 802.1L673.2 809.5L665.5 813.6L656.9 813.6L649.2 809.5L643.8 802.1Z"/>
<path d="M652.4 757.6L654.3 748.4L659.7 741.0L667.4 736.8L676.0 736.8L683.7 741.0L689.1 748.4L691.0 757.6L689.1 766.8L683.7 774.3L676.0 778.4L667.4 778.4L659.7 774.3L654.3 766.8Z"/>
<path d="M662.2 721.7L664.2 712.5L669.5 705.1L677.3 701.0L685.8 701.0L693.6 705.1L698.9 712.5L700.8 721.7L698.9 731.0L693.6 738.4L685.8 742.5L677.3 742.5L669.5 738.4L664.2 731.0Z"/>
<path d="M671.2 686.0L673.1 676.8L678.5 669.4L686.2 665.3L694.8 665.3L702.5 669.4L707.9 676.8L709.8 686.0L707.9 695.3L702.5 702.7L694.8 706.8L686.2 706.8L678.5 702.7L673.1 695.3Z"/>
<path d="M680.2 649.9L682.2 640.7L687.5 633.3L695.3 629.2L703.8 629.2L711.6 633.3L716.9 640.7L718.8 649.9L716.9 659.2L711.6 666.6L703.8 670.7L695.3 670.7L687.5 666.6L682.2 659.2Z"/>
<path d="M689.0 614.1L690.9 604.9L696.3 597.5L704.0 593.4L712.6 593.4L720.3 597.5L725.7 604.9L727.6 614.1L725.7 623.4L720.3 630.8L712.6 634.9L704.0 634.9L696.3 630.8L690.9 623.4Z"/>
<path d="M698.0 578.0L700.0 568.8L705.3 561.4L713.1 557.3L721.6 557.3L729.4 561.4L734.7 568.8L736.6 578.0L734.7 587.3L729.4 594.7L721.6 598.8L713.1 598.8L705.3 594.7L700.0 587.3Z"/>
<path d="M707.5 542.6L709.4 533.3L714.8 525.9L722.5 521.8L731.1 521.8L738.9 525.9L744.2 533.3L746.1 542.6L744.2 551.8L738.9 559.2L731.1 563.3L722.5 563.3L714.8 559.2L709.4 551.8Z"/>
<path d="M717.7 506.8L719.6 497.6L724.9 490.2L732.7 486.0L741.3 486.0L749.0 490.2L754.3 497.6L756.3 506.8L754.3 516.0L749.0 523.5L741.3 527.6L732.7 527.6L724.9 523.5L719.6 516.0Z"/>
<path d="M728.3 471.4L730.2 462.1L735.6 454.7L743.3 450.6L751.9 450.6L759.6 454.7L765.0 462.1L766.9 471.4L765.0 480.6L759.6 488.0L751.9 492.2L743.3 492.2L735.6 488.0L730.2 480.6Z"/>
<path d="M740.1 436.4L742.0 427.2L747.4 419.7L755.1 415.6L763.7 415.6L771.4 419.7L776.8 427.2L778.7 436.4L776.8 445.6L771.4 453.1L763.7 457.2L755.1 457.2L747.4 453.1L742.0 445.6Z"/>
<path d="M753.2 401.9L755.2 392.6L760.5 385.2L768.2 381.1L776.8 381.1L784.6 385.2L789.9 392.6L791.8 401.9L789.9 411.1L784.6 418.5L776.8 422.6L768.2 422.6L760.5 418.5L755.2 411.1Z"/>
<path d="M769.3 368.4L771.2 359.2L776.6 351.8L784.3 347.6L792.9 347.6L800.7 351.8L806.0 359.2L807.9 368.4L806.0 377.6L800.7 385.1L792.9 389.2L784.3 389.2L776.6 385.1L771.2 377.6Z"/>
<path d="M787.7 336.4L789.6 327.2L795.0 319.7L802.7 315.6L811.3 315.6L819.0 319.7L824.4 327.2L826.3 336.4L824.4 345.6L819.0 353.1L811.3 357.2L802.7 357.2L795.0 353.1L789.6 345.6Z"/>
<path d="M811.0 307.9L812.9 298.7L818.3 291.3L826.0 287.2L834.6 287.2L842.4 291.3L847.7 298.7L849.6 307.9L847.7 317.2L842.4 324.6L834.6 328.7L826.0 328.7L818.3 324.6L812.9 317.2Z"/>
<path d="M842.1 288.1L844.1 278.8L849.4 271.4L857.1 267.3L865.7 267.3L873.5 271.4L878.8 278.8L880.7 288.1L878.8 297.3L873.5 304.7L865.7 308.8L857.1 308.8L849.4 304.7L844.1 297.3Z"/>
<path d="M878.1 281.9L880.0 272.6L885.3 265.2L893.1 261.1L901.7 261.1L909.4 265.2L914.7 272.6L916.7 281.9L914.7 291.1L909.4 298.5L901.7 302.6L893.1 302.6L885.3 298.5L880.0 291.1Z"/>
<path d="M914.4 287.1L916.3 277.9L921.6 270.4L929.4 266.3L938.0 266.3L945.7 270.4L951.0 277.9L953.0 287.1L951.0 296.3L945.7 303.8L938.0 307.9L929.4 307.9L921.6 303.8L916.3 296.3Z"/>
<path d="M948.7 301.4L950.6 292.1L956.0 284.7L963.7 280.6L972.3 280.6L980.0 284.7L985.4 292.1L987.3 301.4L985.4 310.6L980.0 318.0L972.3 322.1L963.7 322.1L956.0 318.0L950.6 310.6Z"/>
<path d="M980.0 321.2L981.9 312.0L987.3 304.5L995.0 300.4L1003.6 300.4L1011.4 304.5L1016.7 312.0L1018.6 321.2L1016.7 330.4L1011.4 337.8L1003.6 342.0L995.0 342.0L987.3 337.8L981.9 330.4Z"/>
<path d="M1010.0 342.8L1011.9 333.6L1017.3 326.2L1025.0 322.1L1033.6 322.1L1041.3 326.2L1046.7 333.6L1048.6 342.8L1046.7 352.1L1041.3 359.5L1033.6 363.6L1025.0 363.6L1017.3 359.5L1011.9 352.1Z"/>
<path d="M1038.8 365.7L1040.7 356.5L1046.0 349.1L1053.8 345.0L1062.4 345.0L1070.1 349.1L1075.5 356.5L1077.4 365.7L1075.5 375.0L1070.1 382.4L1062.4 386.5L1053.8 386.5L1046.0 382.4L1040.7 375.0Z"/>
<path d="M420.8 1167.8L422.7 1158.5L428.0 1151.1L435.8 1147.0L444.3 1147.0L452.1 1151.1L457.4 1158.5L459.4 1167.8L457.4 1177.0L452.1 1184.4L444.3 1188.5L435.8 1188.5L428.0 1184.4L422.7 1177.0Z"/>
<path d="M446.8 1152.1L448.7 1142.8L454.0 1135.4L461.8 1131.3L470.4 1131.3L478.1 1135.4L483.5 1142.8L485.4 1152.1L483.5 1161.3L478.1 1168.7L470.4 1172.8L461.8 1172.8L454.0 1168.7L448.7 1161.3Z"/>
<path d="M468.3 1132.1L470.2 1122.9L475.5 1115.5L483.3 1111.3L491.9 1111.3L499.6 1115.5L505.0 1122.9L506.9 1132.1L505.0 1141.3L499.6 1148.8L491.9 1152.9L483.3 1152.9L475.5 1148.8L470.2 1141.3Z"/>
<path d="M487.2 1110.9L489.2 1101.6L494.5 1094.2L502.2 1090.1L510.8 1090.1L518.6 1094.2L523.9 1101.6L525.8 1110.9L523.9 1120.1L518.6 1127.5L510.8 1131.7L502.2 1131.7L494.5 1127.5L489.2 1120.1Z"/>
<path d="M507.8 1084.8L509.7 1075.6L515.1 1068.2L522.8 1064.1L531.4 1064.1L539.2 1068.2L544.5 1075.6L546.4 1084.8L544.5 1094.1L539.2 1101.5L531.4 1105.6L522.8 1105.6L515.1 1101.5L509.7 1094.1Z"/>
<path d="M529.4 1056.0L531.3 1046.8L536.7 1039.4L544.4 1035.3L553.0 1035.3L560.7 1039.4L566.1 1046.8L568.0 1056.0L566.1 1065.3L560.7 1072.7L553.0 1076.8L544.4 1076.8L536.7 1072.7L531.3 1065.3Z"/>
<path d="M548.4 1025.6L550.4 1016.3L555.7 1008.9L563.4 1004.8L572.0 1004.8L579.8 1008.9L585.1 1016.3L587.0 1025.6L585.1 1034.8L579.8 1042.2L572.0 1046.3L563.4 1046.3L555.7 1042.2L550.4 1034.8Z"/>
<path d="M566.9 994.7L568.8 985.4L574.1 978.0L581.9 973.9L590.5 973.9L598.2 978.0L603.6 985.4L605.5 994.7L603.6 1003.9L598.2 1011.3L590.5 1015.5L581.9 1015.5L574.1 1011.3L568.8 1003.9Z"/>
<path d="M585.3 963.8L587.2 954.6L592.6 947.2L600.3 943.1L608.9 943.1L616.6 947.2L622.0 954.6L623.9 963.8L622.0 973.1L616.6 980.5L608.9 984.6L600.3 984.6L592.6 980.5L587.2 973.1Z"/>
<path d="M602.5 932.4L604.4 923.1L609.8 915.7L617.5 911.6L626.1 911.6L633.8 915.7L639.2 923.1L641.1 932.4L639.2 941.6L633.8 949.0L626.1 953.1L617.5 953.1L609.8 949.0L604.4 941.6Z"/>
<path d="M615.9 899.0L617.8 889.7L623.2 882.3L630.9 878.2L639.5 878.2L647.3 882.3L652.6 889.7L654.5 899.0L652.6 908.2L647.3 915.6L639.5 919.7L630.9 919.7L623.2 915.6L617.8 908.2Z"/>
<path d="M628.6 864.9L630.6 855.7L635.9 848.3L643.7 844.1L652.2 844.1L660.0 848.3L665.3 855.7L667.2 864.9L665.3 874.2L660.0 881.6L652.2 885.7L643.7 885.7L635.9 881.6L630.6 874.2Z"/>
<path d="M640.0 830.8L641.9 821.6L647.3 814.2L655.0 810.1L663.6 810.1L671.4 814.2L676.7 821.6L678.6 830.8L676.7 840.1L671.4 847.5L663.6 851.6L655.0 851.6L647.3 847.5L641.9 840.1Z"/>
<path d="M650.8 796.5L652.7 787.3L658.0 779.9L665.8 775.7L674.4 775.7L682.1 779.9L687.5 787.3L689.4 796.5L687.5 805.8L682.1 813.2L674.4 817.3L665.8 817.3L658.0 813.2L652.7 805.8Z"/>
<path d="M661.1 762.1L663.0 752.8L668.4 745.4L676.1 741.3L684.7 741.3L692.4 745.4L697.8 752.8L699.7 762.1L697.8 771.3L692.4 778.7L684.7 782.8L676.1 782.8L668.4 778.7L663.0 771.3Z"/>
<path d="M670.7 727.4L672.6 718.2L678.0 710.8L685.7 706.7L694.3 706.7L702.1 710.8L707.4 718.2L709.3 727.4L707.4 736.7L702.1 744.1L694.3 748.2L685.7 748.2L678.0 744.1L672.6 736.7Z"/>
<path d="M679.6 692.6L681.5 683.4L686.8 676.0L694.6 671.8L703.2 671.8L710.9 676.0L716.3 683.4L718.2 692.6L716.3 701.8L710.9 709.3L703.2 713.4L694.6 713.4L686.8 709.3L681.5 701.8Z"/>
<path d="M688.3 657.7L690.2 648.5L695.6 641.1L703.3 637.0L711.9 637.0L719.6 641.1L725.0 648.5L726.9 657.7L725.0 667.0L719.6 674.4L711.9 678.5L703.3 678.5L695.6 674.4L690.2 667.0Z"/>
<path d="M696.9 622.5L698.8 613.2L704.2 605.8L711.9 601.7L720.5 601.7L728.3 605.8L733.6 613.2L735.5 622.5L733.6 631.7L728.3 639.1L720.5 643.2L711.9 643.2L704.2 639.1L698.8 631.7Z"/>
<path d="M705.3 587.7L707.2 578.5L712.5 571.1L720.3 567.0L728.9 567.0L736.6 571.1L742.0 578.5L743.9 587.7L742.0 597.0L736.6 604.4L728.9 608.5L720.3 608.5L712.5 604.4L707.2 597.0Z"/>
<path d="M713.8 552.6L715.7 543.3L721.1 535.9L728.8 531.8L737.4 531.8L745.1 535.9L750.5 543.3L752.4 552.6L750.5 561.8L745.1 569.2L737.4 573.3L728.8 573.3L721.1 569.2L715.7 561.8Z"/>
<path d="M722.4 517.7L724.3 508.5L729.7 501.1L737.4 497.0L746.0 497.0L753.7 501.1L759.1 508.5L761.0 517.7L759.1 527.0L753.7 534.4L746.0 538.5L737.4 538.5L729.7 534.4L724.3 527.0Z"/>
<path d="M731.0 482.8L732.9 473.6L738.3 466.2L746.0 462.1L754.6 462.1L762.4 466.2L767.7 473.6L769.6 482.8L767.7 492.1L762.4 499.5L754.6 503.6L746.0 503.6L738.3 499.5L732.9 492.1Z"/>
<path d="M739.9 447.7L741.8 438.5L747.2 431.0L754.9 426.9L763.5 426.9L771.3 431.0L776.6 438.5L778.5 447.7L776.6 456.9L771.3 464.4L763.5 468.5L754.9 468.5L747.2 464.4L741.8 456.9Z"/>
<path d="M749.5 413.1L751.4 403.8L756.7 396.4L764.5 392.3L773.1 392.3L780.8 396.4L786.2 403.8L788.1 413.1L786.2 422.3L780.8 429.7L773.1 433.8L764.5 433.8L756.7 429.7L751.4 422.3Z"/>
<path d="M759.8 378.7L761.7 369.4L767.1 362.0L774.8 357.9L783.4 357.9L791.1 362.0L796.5 369.4L798.4 378.7L796.5 387.9L791.1 395.3L783.4 399.4L774.8 399.4L767.1 395.3L761.7 387.9Z"/>
<path d="M772.1 344.6L774.0 335.3L779.3 327.9L787.1 323.8L795.6 323.8L803.4 327.9L808.7 335.3L810.7 344.6L808.7 353.8L803.4 361.2L795.6 365.4L787.1 365.4L779.3 361.2L774.0 353.8Z"/>
<path d="M786.6 311.9L788.5 302.7L793.9 295.2L801.6 291.1L810.2 291.1L818.0 295.2L823.3 302.7L825.2 311.9L823.3 321.1L818.0 328.6L810.2 332.7L801.6 332.7L793.9 328.6L788.5 321.1Z"/>
<path d="M804.3 280.7L806.2 271.5L811.5 264.1L819.3 260.0L827.9 260.0L835.6 264.1L841.0 271.5L842.9 280.7L841.0 290.0L835.6 297.4L827.9 301.5L819.3 301.5L811.5 297.4L806.2 290.0Z"/>
<path d="M828.2 253.8L830.1 244.6L835.4 237.2L843.2 233.1L851.8 233.1L859.5 237.2L864.8 244.6L866.8 253.8L864.8 263.1L859.5 270.5L851.8 274.6L843.2 274.6L835.4 270.5L830.1 263.1Z"/>
<path d="M859.3 236.4L861.2 227.2L866.6 219.8L874.3 215.7L882.9 215.7L890.6 219.8L896.0 227.2L897.9 236.4L896.0 245.7L890.6 253.1L882.9 257.2L874.3 257.2L866.6 253.1L861.2 245.7Z"/>
<path d="M894.9 233.2L896.8 224.0L902.1 216.6L909.9 212.4L918.5 212.4L926.2 216.6L931.6 224.0L933.5 233.2L931.6 242.4L926.2 249.9L918.5 254.0L909.9 254.0L902.1 249.9L896.8 242.4Z"/>
<path d="M930.0 240.3L931.9 231.0L937.3 223.6L945.0 219.5L953.6 219.5L961.3 223.6L966.7 231.0L968.6 240.3L966.7 249.5L961.3 256.9L953.6 261.0L945.0 261.0L937.3 256.9L931.9 249.5Z"/>
<path d="M962.7 255.7L964.6 246.4L970.0 239.0L977.7 234.9L986.3 234.9L994.0 239.0L999.4 246.4L1001.3 255.7L999.4 264.9L994.0 272.3L986.3 276.4L977.7 276.4L970.0 272.3L964.6 264.9Z"/>
<path d="M992.4 276.0L994.3 266.8L999.6 259.4L1007.4 255.2L1016.0 255.2L1023.7 259.4L1029.1 266.8L1031.0 276.0L1029.1 285.2L1023.7 292.7L1016.0 296.8L1007.4 296.8L999.6 292.7L994.3 285.2Z"/>
<path d="M1021.0 297.8L1022.9 288.6L1028.2 281.2L1036.0 277.1L1044.6 277.1L1052.3 281.2L1057.7 288.6L1059.6 297.8L1057.7 307.1L1052.3 314.5L1044.6 318.6L1036.0 318.6L1028.2 314.5L1022.9 307.1Z"/>
<path d="M1048.5 320.9L1050.4 311.7L1055.7 304.3L1063.5 300.2L1072.1 300.2L1079.8 304.3L1085.1 311.7L1087.1 320.9L1085.1 330.2L1079.8 337.6L1072.1 341.7L1063.5 341.7L1055.7 337.6L1050.4 330.2Z"/>
<path d="M424.1 1168.0L426.0 1158.7L431.4 1151.3L439.1 1147.2L447.7 1147.2L455.4 1151.3L460.8 1158.7L462.7 1168.0L460.8 1177.2L455.4 1184.6L447.7 1188.7L439.1 1188.7L431.4 1184.6L426.0 1177.2Z"/>
<path d="M453.9 1152.1L455.8 1142.8L461.2 1135.4L468.9 1131.3L477.5 1131.3L485.2 1135.4L490.6 1142.8L492.5 1152.1L490.6 1161.3L485.2 1168.7L477.5 1172.8L468.9 1172.8L461.2 1168.7L455.8 1161.3Z"/>
<path d="M478.2 1129.9L480.1 1120.7L485.5 1113.3L493.2 1109.2L501.8 1109.2L509.5 1113.3L514.9 1120.7L516.8 1129.9L514.9 1139.2L509.5 1146.6L501.8 1150.7L493.2 1150.7L485.5 1146.6L480.1 1139.2Z"/>
<path d="M500.3 1105.6L502.2 1096.3L507.6 1088.9L515.3 1084.8L523.9 1084.8L531.6 1088.9L537.0 1096.3L538.9 1105.6L537.0 1114.8L531.6 1122.2L523.9 1126.3L515.3 1126.3L507.6 1122.2L502.2 1114.8Z"/>
<path d="M523.5 1077.0L525.4 1067.8L530.8 1060.4L538.5 1056.2L547.1 1056.2L554.8 1060.4L560.2 1067.8L562.1 1077.0L560.2 1086.3L554.8 1093.7L547.1 1097.8L538.5 1097.8L530.8 1093.7L525.4 1086.3Z"/>
<path d="M545.5 1046.9L547.4 1037.6L552.7 1030.2L560.5 1026.1L569.1 1026.1L576.8 1030.2L582.2 1037.6L584.1 1046.9L582.2 1056.1L576.8 1063.5L569.1 1067.6L560.5 1067.6L552.7 1063.5L547.4 1056.1Z"/>
<path d="M564.6 1014.9L566.5 1005.7L571.8 998.3L579.6 994.2L588.2 994.2L595.9 998.3L601.2 1005.7L603.2 1014.9L601.2 1024.2L595.9 1031.6L588.2 1035.7L579.6 1035.7L571.8 1031.6L566.5 1024.2Z"/>
<path d="M584.0 982.7L585.9 973.5L591.3 966.1L599.0 961.9L607.6 961.9L615.4 966.1L620.7 973.5L622.6 982.7L620.7 992.0L615.4 999.4L607.6 1003.5L599.0 1003.5L591.3 999.4L585.9 992.0Z"/>
<path d="M603.4 950.9L605.3 941.7L610.7 934.3L618.4 930.1L627.0 930.1L634.8 934.3L640.1 941.7L642.0 950.9L640.1 960.2L634.8 967.6L627.0 971.7L618.4 971.7L610.7 967.6L605.3 960.2Z"/>
<path d="M618.7 917.0L620.6 907.8L625.9 900.4L633.7 896.3L642.3 896.3L650.0 900.4L655.4 907.8L657.3 917.0L655.4 926.3L650.0 933.7L642.3 937.8L633.7 937.8L625.9 933.7L620.6 926.3Z"/>
<path d="M632.5 882.0L634.4 872.8L639.7 865.4L647.5 861.2L656.1 861.2L663.8 865.4L669.2 872.8L671.1 882.0L669.2 891.3L663.8 898.7L656.1 902.8L647.5 902.8L639.7 898.7L634.4 891.3Z"/>
<path d="M644.8 846.9L646.7 837.6L652.0 830.2L659.8 826.1L668.4 826.1L676.1 830.2L681.5 837.6L683.4 846.9L681.5 856.1L676.1 863.5L668.4 867.7L659.8 867.7L652.0 863.5L646.7 856.1Z"/>
<path d="M656.2 811.5L658.1 802.2L663.4 794.8L671.2 790.7L679.8 790.7L687.5 794.8L692.8 802.2L694.8 811.5L692.8 820.7L687.5 828.1L679.8 832.2L671.2 832.2L663.4 828.1L658.1 820.7Z"/>
<path d="M667.0 775.9L669.0 766.6L674.3 759.2L682.0 755.1L690.6 755.1L698.4 759.2L703.7 766.6L705.6 775.9L703.7 785.1L698.4 792.5L690.6 796.6L682.0 796.6L674.3 792.5L669.0 785.1Z"/>
<path d="M677.4 739.7L679.3 730.4L684.7 723.0L692.4 718.9L701.0 718.9L708.7 723.0L714.1 730.4L716.0 739.7L714.1 748.9L708.7 756.3L701.0 760.5L692.4 760.5L684.7 756.3L679.3 748.9Z"/>
<path d="M686.8 703.7L688.8 694.5L694.1 687.0L701.8 682.9L710.4 682.9L718.2 687.0L723.5 694.5L725.4 703.7L723.5 712.9L718.2 720.3L710.4 724.5L701.8 724.5L694.1 720.3L688.8 712.9Z"/>
<path d="M695.8 667.6L697.7 658.3L703.1 650.9L710.8 646.8L719.4 646.8L727.2 650.9L732.5 658.3L734.4 667.6L732.5 676.8L727.2 684.2L719.4 688.3L710.8 688.3L703.1 684.2L697.7 676.8Z"/>
<path d="M704.9 631.1L706.8 621.8L712.1 614.4L719.9 610.3L728.5 610.3L736.2 614.4L741.6 621.8L743.5 631.1L741.6 640.3L736.2 647.7L728.5 651.8L719.9 651.8L712.1 647.7L706.8 640.3Z"/>
<path d="M713.7 594.8L715.6 585.6L721.0 578.2L728.7 574.1L737.3 574.1L745.1 578.2L750.4 585.6L752.3 594.8L750.4 604.1L745.1 611.5L737.3 615.6L728.7 615.6L721.0 611.5L715.6 604.1Z"/>
<path d="M722.9 558.8L724.8 549.5L730.2 542.1L737.9 538.0L746.5 538.0L754.3 542.1L759.6 549.5L761.5 558.8L759.6 568.0L754.3 575.4L746.5 579.5L737.9 579.5L730.2 575.4L724.8 568.0Z"/>
<path d="M732.7 522.7L734.6 513.4L740.0 506.0L747.7 501.9L756.3 501.9L764.0 506.0L769.4 513.4L771.3 522.7L769.4 531.9L764.0 539.3L756.3 543.5L747.7 543.5L740.0 539.3L734.6 531.9Z"/>
<path d="M742.7 486.9L744.6 477.7L750.0 470.3L757.7 466.1L766.3 466.1L774.1 470.3L779.4 477.7L781.3 486.9L779.4 496.2L774.1 503.6L766.3 507.7L757.7 507.7L750.0 503.6L744.6 496.2Z"/>
<path d="M753.5 451.2L755.4 441.9L760.8 434.5L768.5 430.4L777.1 430.4L784.8 434.5L790.2 441.9L792.1 451.2L790.2 460.4L784.8 467.8L777.1 472.0L768.5 472.0L760.8 467.8L755.4 460.4Z"/>
<path d="M765.6 415.9L767.5 406.6L772.8 399.2L780.6 395.1L789.2 395.1L796.9 399.2L802.2 406.6L804.2 415.9L802.2 425.1L796.9 432.5L789.2 436.6L780.6 436.6L772.8 432.5L767.5 425.1Z"/>
<path d="M779.2 381.2L781.1 371.9L786.4 364.5L794.2 360.4L802.8 360.4L810.5 364.5L815.9 371.9L817.8 381.2L815.9 390.4L810.5 397.8L802.8 402.0L794.2 402.0L786.4 397.8L781.1 390.4Z"/>
<path d="M795.9 347.6L797.9 338.3L803.2 330.9L811.0 326.8L819.5 326.8L827.3 330.9L832.6 338.3L834.5 347.6L832.6 356.8L827.3 364.2L819.5 368.3L811.0 368.3L803.2 364.2L797.9 356.8Z"/>
<path d="M815.7 315.9L817.6 306.6L823.0 299.2L830.7 295.1L839.3 295.1L847.0 299.2L852.4 306.6L854.3 315.9L852.4 325.1L847.0 332.5L839.3 336.7L830.7 336.7L823.0 332.5L817.6 325.1Z"/>
<path d="M841.8 289.4L843.7 280.2L849.1 272.7L856.8 268.6L865.4 268.6L873.2 272.7L878.5 280.2L880.4 289.4L878.5 298.6L873.2 306.1L865.4 310.2L856.8 310.2L849.1 306.1L843.7 298.6Z"/>
<path d="M875.5 273.6L877.4 264.3L882.7 256.9L890.5 252.8L899.1 252.8L906.8 256.9L912.2 264.3L914.1 273.6L912.2 282.8L906.8 290.2L899.1 294.4L890.5 294.4L882.7 290.2L877.4 282.8Z"/>
<path d="M912.5 273.1L914.4 263.9L919.8 256.5L927.5 252.3L936.1 252.3L943.8 256.5L949.2 263.9L951.1 273.1L949.2 282.3L943.8 289.8L936.1 293.9L927.5 293.9L919.8 289.8L914.4 282.3Z"/>
<path d="M948.3 282.2L950.2 273.0L955.5 265.5L963.3 261.4L971.9 261.4L979.6 265.5L985.0 273.0L986.9 282.2L985.0 291.4L979.6 298.8L971.9 303.0L963.3 303.0L955.5 298.8L950.2 291.4Z"/>
<path d="M981.6 299.2L983.5 290.0L988.9 282.6L996.6 278.4L1005.2 278.4L1013.0 282.6L1018.3 290.0L1020.2 299.2L1018.3 308.5L1013.0 315.9L1005.2 320.0L996.6 320.0L988.9 315.9L983.5 308.5Z"/>
<path d="M1012.1 320.5L1014.0 311.2L1019.4 303.8L1027.1 299.7L1035.7 299.7L1043.4 303.8L1048.8 311.2L1050.7 320.5L1048.8 329.7L1043.4 337.1L1035.7 341.2L1027.1 341.2L1019.4 337.1L1014.0 329.7Z"/>
<rect x="141.7" y="1169.9" width="30.6" height="30.6"/>
<rect x="178.3" y="1169.9" width="30.6" height="30.6"/>
<rect x="214.8" y="1169.9" width="30.6" height="30.6"/>
<rect x="251.2" y="1169.9" width="30.6" height="30.6"/>
<rect x="287.5" y="1169.9" width="30.6" height="30.6"/>
<rect x="323.7" y="1169.9" width="30.6" height="30.6"/>
<rect x="360.2" y="1169.7" width="30.6" height="30.6"/>
<rect x="394.6" y="1162.5" width="30.6" height="30.6"/>
<rect x="421.2" y="1144.2" width="30.6" height="30.6"/>
<rect x="443.4" y="1121.5" width="30.6" height="30.6"/>
<rect x="462.9" y="1097.2" width="30.6" height="30.6"/>
<rect x="482.4" y="1068.9" width="30.6" height="30.6"/>
<rect x="502.8" y="1038.6" width="30.6" height="30.6"/>
<rect x="521.9" y="1007.7" width="30.6" height="30.6"/>
<rect x="540.6" y="976.5" width="30.6" height="30.6"/>
<rect x="559.3" y="945.3" width="30.6" height="30.6"/>
<rect x="576.1" y="913.2" width="30.6" height="30.6"/>
<rect x="589.6" y="879.4" width="30.6" height="30.6"/>
<rect x="602.2" y="845.2" width="30.6" height="30.6"/>
<rect x="613.6" y="810.7" width="30.6" height="30.6"/>
<rect x="624.4" y="776.0" width="30.6" height="30.6"/>
<rect x="634.7" y="741.1" width="30.6" height="30.6"/>
<rect x="644.4" y="706.0" width="30.6" height="30.6"/>
<rect x="653.2" y="670.7" width="30.6" height="30.6"/>
<rect x="662.0" y="635.5" width="30.6" height="30.6"/>
<rect x="670.7" y="599.9" width="30.6" height="30.6"/>
<rect x="679.3" y="564.4" width="30.6" height="30.6"/>
<rect x="688.0" y="529.2" width="30.6" height="30.6"/>
<rect x="697.0" y="493.9" width="30.6" height="30.6"/>
<rect x="705.9" y="458.8" width="30.6" height="30.6"/>
<rect x="715.4" y="423.6" width="30.6" height="30.6"/>
<rect x="725.8" y="388.7" width="30.6" height="30.6"/>
<rect x="737.3" y="354.0" width="30.6" height="30.6"/>
<rect x="751.3" y="320.5" width="30.6" height="30.6"/>
<rect x="767.7" y="288.2" width="30.6" height="30.6"/>
<rect x="789.1" y="258.5" width="30.6" height="30.6"/>
<rect x="817.7" y="236.5" width="30.6" height="30.6"/>
<rect x="852.5" y="227.0" width="30.6" height="30.6"/>
<rect x="888.6" y="230.5" width="30.6" height="30.6"/>
<rect x="922.5" y="243.2" width="30.6" height="30.6"/>
<rect x="396.7" y="1169.9" width="30.6" height="30.6"/>
<rect x="432.9" y="1167.2" width="30.6" height="30.6"/>
<rect x="467.7" y="1157.0" width="30.6" height="30.6"/>
<rect x="495.9" y="1134.5" width="30.6" height="30.6"/>
<rect x="523.9" y="1111.6" width="30.6" height="30.6"/>
<rect x="550.0" y="1086.1" width="30.6" height="30.6"/>
<rect x="576.4" y="1061.0" width="30.6" height="30.6"/>
<rect x="601.6" y="1034.4" width="30.6" height="30.6"/>
<rect x="629.3" y="1011.1" width="30.6" height="30.6"/>
<rect x="657.1" y="988.2" width="30.6" height="30.6"/>
<rect x="680.3" y="959.6" width="30.6" height="30.6"/>
<rect x="703.6" y="931.9" width="30.6" height="30.6"/>
<rect x="727.5" y="904.6" width="30.6" height="30.6"/>
<rect x="749.6" y="875.4" width="30.6" height="30.6"/>
<rect x="770.3" y="845.7" width="30.6" height="30.6"/>
<rect x="790.3" y="815.4" width="30.6" height="30.6"/>
<rect x="809.4" y="784.1" width="30.6" height="30.6"/>
<rect x="823.9" y="751.0" width="30.6" height="30.6"/>
<rect x="836.5" y="716.9" width="30.6" height="30.6"/>
<rect x="848.8" y="682.4" width="30.6" height="30.6"/>
<rect x="859.8" y="647.9" width="30.6" height="30.6"/>
<rect x="869.8" y="612.6" width="30.6" height="30.6"/>
<rect x="879.7" y="577.6" width="30.6" height="30.6"/>
<rect x="891.0" y="543.1" width="30.6" height="30.6"/>
<rect x="903.0" y="508.7" width="30.6" height="30.6"/>
<rect x="914.7" y="474.6" width="30.6" height="30.6"/>
<rect x="926.7" y="440.0" width="30.6" height="30.6"/>
<rect x="938.9" y="405.7" width="30.6" height="30.6"/>
<rect x="952.1" y="372.0" width="30.6" height="30.6"/>
<rect x="969.1" y="339.4" width="30.6" height="30.6"/>
<rect x="990.9" y="310.5" width="30.6" height="30.6"/>
<rect x="1018.4" y="287.1" width="30.6" height="30.6"/>
<rect x="1054.2" y="282.4" width="30.6" height="30.6"/>
<rect x="1088.6" y="293.5" width="30.6" height="30.6"/>
<rect x="1120.2" y="311.0" width="30.6" height="30.6"/>
<rect x="1152.4" y="328.1" width="30.6" height="30.6"/>
<rect x="1184.6" y="345.2" width="30.6" height="30.6"/>
<rect x="1217.5" y="360.8" width="30.6" height="30.6"/>
<rect x="1250.4" y="376.5" width="30.6" height="30.6"/>
<rect x="1284.4" y="389.2" width="30.6" height="30.6"/>
<rect x="1319.2" y="399.9" width="30.6" height="30.6"/>
<rect x="466.3" y="1159.5" width="30.6" height="30.6"/>
<rect x="495.2" y="1144.6" width="30.6" height="30.6"/>
<rect x="521.1" y="1126.2" width="30.6" height="30.6"/>
<rect x="545.3" y="1106.1" width="30.6" height="30.6"/>
<rect x="568.2" y="1084.7" width="30.6" height="30.6"/>
<rect x="594.7" y="1061.0" width="30.6" height="30.6"/>
<rect x="619.4" y="1035.7" width="30.6" height="30.6"/>
<rect x="646.5" y="1012.4" width="30.6" height="30.6"/>
<rect x="674.3" y="990.0" width="30.6" height="30.6"/>
<rect x="696.8" y="962.6" width="30.6" height="30.6"/>
<rect x="719.8" y="935.2" width="30.6" height="30.6"/>
<rect x="743.1" y="908.6" width="30.6" height="30.6"/>
<rect x="765.1" y="880.3" width="30.6" height="30.6"/>
<rect x="785.5" y="851.4" width="30.6" height="30.6"/>
<rect x="805.3" y="821.6" width="30.6" height="30.6"/>
<rect x="824.0" y="791.5" width="30.6" height="30.6"/>
<rect x="839.7" y="759.5" width="30.6" height="30.6"/>
<rect x="852.0" y="726.2" width="30.6" height="30.6"/>
<rect x="864.3" y="692.6" width="30.6" height="30.6"/>
<rect x="875.5" y="658.6" width="30.6" height="30.6"/>
<rect x="885.5" y="624.7" width="30.6" height="30.6"/>
<rect x="895.0" y="590.2" width="30.6" height="30.6"/>
<rect x="905.8" y="556.5" width="30.6" height="30.6"/>
<rect x="918.2" y="522.9" width="30.6" height="30.6"/>
<rect x="930.6" y="489.7" width="30.6" height="30.6"/>
<rect x="943.2" y="456.2" width="30.6" height="30.6"/>
<rect x="956.1" y="423.3" width="30.6" height="30.6"/>
<rect x="970.3" y="390.3" width="30.6" height="30.6"/>
<rect x="988.1" y="359.8" width="30.6" height="30.6"/>
<rect x="1011.4" y="332.5" width="30.6" height="30.6"/>
<rect x="1040.2" y="311.7" width="30.6" height="30.6"/>
<rect x="1075.3" y="308.7" width="30.6" height="30.6"/>
<rect x="1108.8" y="320.0" width="30.6" height="30.6"/>
<rect x="1139.9" y="336.9" width="30.6" height="30.6"/>
<rect x="1171.8" y="353.3" width="30.6" height="30.6"/>
<rect x="1203.6" y="369.7" width="30.6" height="30.6"/>
<rect x="1235.7" y="384.4" width="30.6" height="30.6"/>
<rect x="1268.2" y="399.6" width="30.6" height="30.6"/>
<rect x="1301.4" y="411.8" width="30.6" height="30.6"/>
<rect x="1335.7" y="422.0" width="30.6" height="30.6"/>
<rect x="432.8" y="1167.5" width="30.6" height="30.6"/>
<rect x="467.9" y="1160.3" width="30.6" height="30.6"/>
<rect x="500.4" y="1147.7" width="30.6" height="30.6"/>
<rect x="530.0" y="1129.9" width="30.6" height="30.6"/>
<rect x="557.4" y="1108.9" width="30.6" height="30.6"/>
<rect x="583.4" y="1086.1" width="30.6" height="30.6"/>
<rect x="611.4" y="1062.4" width="30.6" height="30.6"/>
<rect x="637.7" y="1036.3" width="30.6" height="30.6"/>
<rect x="665.9" y="1012.2" width="30.6" height="30.6"/>
<rect x="694.5" y="988.8" width="30.6" height="30.6"/>
<rect x="717.7" y="960.3" width="30.6" height="30.6"/>
<rect x="741.6" y="931.9" width="30.6" height="30.6"/>
<rect x="766.0" y="904.0" width="30.6" height="30.6"/>
<rect x="788.1" y="874.7" width="30.6" height="30.6"/>
<rect x="809.3" y="844.3" width="30.6" height="30.6"/>
<rect x="829.6" y="813.2" width="30.6" height="30.6"/>
<rect x="848.8" y="781.4" width="30.6" height="30.6"/>
<rect x="863.1" y="747.7" width="30.6" height="30.6"/>
<rect x="876.0" y="712.9" width="30.6" height="30.6"/>
<rect x="888.3" y="677.9" width="30.6" height="30.6"/>
<rect x="899.4" y="642.5" width="30.6" height="30.6"/>
<rect x="909.2" y="607.2" width="30.6" height="30.6"/>
<rect x="919.9" y="571.8" width="30.6" height="30.6"/>
<rect x="932.7" y="536.9" width="30.6" height="30.6"/>
<rect x="946.2" y="502.3" width="30.6" height="30.6"/>
<rect x="960.0" y="468.0" width="30.6" height="30.6"/>
<rect x="974.3" y="434.2" width="30.6" height="30.6"/>
<rect x="990.2" y="400.5" width="30.6" height="30.6"/>
<rect x="1010.6" y="369.9" width="30.6" height="30.6"/>
<rect x="1036.9" y="344.2" width="30.6" height="30.6"/>
<rect x="1069.6" y="328.3" width="30.6" height="30.6"/>
<rect x="1106.4" y="329.7" width="30.6" height="30.6"/>
<rect x="1140.0" y="344.9" width="30.6" height="30.6"/>
<rect x="1172.7" y="362.1" width="30.6" height="30.6"/>
<rect x="1206.1" y="378.9" width="30.6" height="30.6"/>
<rect x="1239.4" y="394.9" width="30.6" height="30.6"/>
<rect x="1273.1" y="410.0" width="30.6" height="30.6"/>
<rect x="1307.3" y="424.0" width="30.6" height="30.6"/>
<rect x="466.6" y="1161.6" width="30.6" height="30.6"/>
<rect x="498.4" y="1152.2" width="30.6" height="30.6"/>
<rect x="527.7" y="1139.9" width="30.6" height="30.6"/>
<rect x="553.5" y="1123.3" width="30.6" height="30.6"/>
<rect x="577.2" y="1105.2" width="30.6" height="30.6"/>
<rect x="600.1" y="1086.1" width="30.6" height="30.6"/>
<rect x="628.3" y="1063.6" width="30.6" height="30.6"/>
<rect x="654.4" y="1038.8" width="30.6" height="30.6"/>
<rect x="681.4" y="1014.7" width="30.6" height="30.6"/>
<rect x="709.6" y="992.8" width="30.6" height="30.6"/>
<rect x="732.6" y="965.3" width="30.6" height="30.6"/>
<rect x="755.8" y="937.5" width="30.6" height="30.6"/>
<rect x="779.4" y="910.5" width="30.6" height="30.6"/>
<rect x="801.8" y="882.1" width="30.6" height="30.6"/>
<rect x="822.5" y="852.8" width="30.6" height="30.6"/>
<rect x="842.6" y="822.7" width="30.6" height="30.6"/>
<rect x="861.6" y="792.3" width="30.6" height="30.6"/>
<rect x="877.5" y="759.9" width="30.6" height="30.6"/>
<rect x="890.0" y="726.2" width="30.6" height="30.6"/>
<rect x="902.3" y="692.6" width="30.6" height="30.6"/>
<rect x="913.6" y="658.2" width="30.6" height="30.6"/>
<rect x="923.7" y="623.8" width="30.6" height="30.6"/>
<rect x="933.3" y="589.2" width="30.6" height="30.6"/>
<rect x="944.3" y="554.6" width="30.6" height="30.6"/>
<rect x="956.4" y="521.0" width="30.6" height="30.6"/>
<rect x="968.7" y="486.8" width="30.6" height="30.6"/>
<rect x="980.9" y="453.1" width="30.6" height="30.6"/>
<rect x="993.5" y="419.5" width="30.6" height="30.6"/>
<rect x="1007.0" y="386.1" width="30.6" height="30.6"/>
<rect x="1023.9" y="354.4" width="30.6" height="30.6"/>
<rect x="1046.0" y="325.9" width="30.6" height="30.6"/>
<rect x="1073.5" y="303.0" width="30.6" height="30.6"/>
<rect x="1108.6" y="297.4" width="30.6" height="30.6"/>
<rect x="1142.8" y="307.2" width="30.6" height="30.6"/>
<rect x="1174.5" y="324.2" width="30.6" height="30.6"/>
<rect x="1206.3" y="340.7" width="30.6" height="30.6"/>
<rect x="1238.5" y="357.6" width="30.6" height="30.6"/>
<rect x="1271.0" y="372.9" width="30.6" height="30.6"/>
<rect x="1303.5" y="388.2" width="30.6" height="30.6"/>
<rect x="467.8" y="1162.1" width="30.6" height="30.6"/>
<rect x="502.0" y="1153.3" width="30.6" height="30.6"/>
<rect x="534.5" y="1142.3" width="30.6" height="30.6"/>
<rect x="564.0" y="1125.9" width="30.6" height="30.6"/>
<rect x="591.2" y="1106.4" width="30.6" height="30.6"/>
<rect x="617.9" y="1085.3" width="30.6" height="30.6"/>
<rect x="647.8" y="1062.4" width="30.6" height="30.6"/>
<rect x="674.8" y="1037.2" width="30.6" height="30.6"/>
<rect x="703.2" y="1012.7" width="30.6" height="30.6"/>
<rect x="732.2" y="989.1" width="30.6" height="30.6"/>
<rect x="755.7" y="960.3" width="30.6" height="30.6"/>
<rect x="779.6" y="931.9" width="30.6" height="30.6"/>
<rect x="804.3" y="903.6" width="30.6" height="30.6"/>
<rect x="826.6" y="874.0" width="30.6" height="30.6"/>
<rect x="848.0" y="843.2" width="30.6" height="30.6"/>
<rect x="868.6" y="811.8" width="30.6" height="30.6"/>
<rect x="887.6" y="779.9" width="30.6" height="30.6"/>
<rect x="902.0" y="745.3" width="30.6" height="30.6"/>
<rect x="914.9" y="710.5" width="30.6" height="30.6"/>
<rect x="927.2" y="675.0" width="30.6" height="30.6"/>
<rect x="938.3" y="639.6" width="30.6" height="30.6"/>
<rect x="948.2" y="603.6" width="30.6" height="30.6"/>
<rect x="959.4" y="568.0" width="30.6" height="30.6"/>
<rect x="972.8" y="533.1" width="30.6" height="30.6"/>
<rect x="987.0" y="498.8" width="30.6" height="30.6"/>
<rect x="1001.7" y="464.5" width="30.6" height="30.6"/>
<rect x="1017.6" y="430.5" width="30.6" height="30.6"/>
<rect x="1035.9" y="398.0" width="30.6" height="30.6"/>
<rect x="1060.5" y="369.8" width="30.6" height="30.6"/>
<rect x="1090.6" y="348.2" width="30.6" height="30.6"/>
<rect x="1127.2" y="342.6" width="30.6" height="30.6"/>
<rect x="1162.6" y="352.2" width="30.6" height="30.6"/>
<rect x="1195.8" y="369.1" width="30.6" height="30.6"/>
<rect x="1229.5" y="385.8" width="30.6" height="30.6"/>
<rect x="1262.9" y="402.2" width="30.6" height="30.6"/>
</g>
<g fill="none" stroke="#000" stroke-linecap="round" stroke-linejoin="round" stroke-width="6.2">
<path d="M160.0,1185.2L160.1,1185.2 162.9,1185.2 165.7,1185.2 168.4,1185.2 171.3,1185.2 174.1,1185.2 177.0,1185.2 179.8,1185.2 182.7,1185.2 185.6,1185.2 188.5,1185.2 191.5,1185.2 194.4,1185.2 197.4,1185.2 200.4,1185.2 203.3,1185.2 206.3,1185.2 209.3,1185.2 212.4,1185.2 215.4,1185.2 218.4,1185.2 221.5,1185.2 224.5,1185.2 227.6,1185.2 230.7,1185.2 233.7,1185.2 236.8,1185.2 239.9,1185.2 243.0,1185.2 246.1,1185.2 249.1,1185.2 252.2,1185.2 255.3,1185.1 258.4,1185.1 261.5,1185.0 264.6,1184.8 267.7,1184.7 270.8,1184.5 273.9,1184.4 277.0,1184.2 280.0,1184.0 283.1,1183.8 286.2,1183.6 289.2,1183.3 292.3,1183.0 295.4,1182.7 298.4,1182.4 301.4,1182.0 304.4,1181.7 307.5,1181.3 310.5,1181.0 313.5,1180.6 316.4,1180.2 319.4,1179.8 322.4,1179.3 325.3,1178.8 328.2,1178.3 331.1,1177.6 334.0,1177.0 336.9,1176.2 339.8,1175.5 342.6,1174.6 345.4,1173.8 348.2,1172.8 351.0,1171.9 353.8,1170.9 356.5,1169.9 359.2,1168.8 362.0,1167.6 364.6,1166.4 367.3,1165.2 369.9,1163.9 372.5,1162.5 375.1,1161.1 377.7,1159.6 380.2,1158.2 382.8,1156.6 385.3,1155.0 387.7,1153.4 390.2,1151.7 392.6,1150.0 395.0,1148.3 397.4,1146.5 399.8,1144.7 402.1,1142.8 404.4,1140.9 406.7,1139.0 409.0,1137.0 411.2,1135.0 413.4,1132.9 415.6,1130.9 417.8,1128.8 419.9,1126.6 422.0,1124.4 424.1,1122.2 426.2,1120.0 428.3,1117.7 430.3,1115.5 432.3,1113.2 434.2,1110.8 436.2,1108.4 438.1,1106.1 440.0,1103.7 441.9,1101.2 443.7,1098.8 445.5,1096.3 447.3,1093.8 449.1,1091.3 450.8,1088.7 452.5,1086.2 454.2,1083.6 455.9,1081.0 457.5,1078.4 459.1,1075.8 460.7,1073.2 462.3,1070.6 463.8,1067.9 465.3,1065.2 466.8,1062.6 468.2,1059.9 469.6,1057.2 471.0,1054.5 472.4,1051.8 473.7,1049.1 475.0,1046.4 476.3,1043.6 477.6,1040.9 478.8,1038.2 480.0,1035.4 481.1,1032.7 482.3,1030.0 483.4,1027.2 484.5,1024.5 485.6,1021.8 486.6,1019.0 487.7,1016.3 488.7,1013.5 489.7,1010.8 490.7,1008.0 491.7,1005.2 492.6,1002.5 493.6,999.7 494.5,997.0 495.5,994.2 496.4,991.4 497.3,988.6 498.2,985.9 499.1,983.1 500.0,980.3 500.9,977.5 501.8,974.8 502.7,972.0 503.6,969.2 504.6,966.4 505.5,963.6 506.4,960.8 507.3,958.0 508.2,955.2 509.1,952.4 510.0,949.6 510.9,946.8 511.9,944.0 512.8,941.2 513.7,938.4 514.6,935.6 515.5,932.8 516.5,930.0 517.4,927.1 518.3,924.3 519.2,921.5 520.1,918.7 521.0,915.9 522.0,913.0 522.9,910.2 523.8,907.4 524.7,904.6 525.6,901.7 526.6,898.9 527.5,896.1 528.4,893.2 529.3,890.4 530.2,887.5 531.1,884.7 532.1,881.8 533.0,879.0 533.9,876.2 534.8,873.3 535.7,870.5 536.6,867.6 537.5,864.7 538.4,861.9 539.3,859.0 540.2,856.2 541.1,853.3 542.0,850.5 542.9,847.6 543.8,844.7 544.7,841.9 545.6,839.0 546.5,836.1 547.4,833.3 548.3,830.4 549.1,827.5 550.0,824.6 550.9,821.8 551.8,818.9 552.7,816.0 553.5,813.1 554.4,810.2 555.3,807.4 556.1,804.5 557.0,801.6 557.8,798.7 558.7,795.8 559.5,792.9 560.4,790.0 561.2,787.2 562.1,784.3 562.9,781.4 563.8,778.5 564.6,775.6 565.4,772.7 566.3,769.8 567.1,766.9 567.9,764.0 568.8,761.1 569.6,758.2 570.4,755.3 571.2,752.4 572.0,749.5 572.8,746.6 573.7,743.7 574.5,740.8 575.3,737.9 576.1,734.9 576.9,732.0 577.7,729.1 578.5,726.2 579.3,723.3 580.1,720.4 580.9,717.5 581.7,714.6 582.4,711.7 583.2,708.7 584.0,705.8 584.8,702.9 585.6,700.0 586.4,697.1 587.1,694.1 587.9,691.2 588.7,688.3 589.5,685.4 590.2,682.5 591.0,679.5 591.8,676.6 592.5,673.7 593.3,670.8 594.1,667.8 594.8,664.9 595.6,662.0 596.3,659.1 597.1,656.1 597.9,653.2 598.6,650.3 599.4,647.4 600.1,644.4 600.9,641.5 601.6,638.6 602.4,635.7 603.1,632.7 603.8,629.8 604.6,626.9 605.3,623.9 606.1,621.0 606.8,618.1 607.6,615.1 608.3,612.2 609.0,609.3 609.8,606.3 610.5,603.4 611.2,600.5 612.0,597.5 612.7,594.6 613.4,591.7 614.2,588.7 614.9,585.8 615.6,582.9 616.3,579.9 617.1,577.0 617.8,574.1 618.5,571.1 619.2,568.2 620.0,565.3 620.7,562.3 621.4,559.4 622.1,556.5 622.8,553.6 623.6,550.6 624.3,547.7 625.0,544.8 625.7,541.8 626.4,538.9 627.1,536.0 627.9,533.0 628.6,530.1 629.3,527.2 630.0,524.2 630.7,521.3 631.4,518.4 632.2,515.4 632.9,512.5 633.6,509.6 634.3,506.6 635.0,503.7 635.7,500.8 636.4,497.9 637.1,494.9 637.9,492.0 638.6,489.1 639.3,486.1 640.0,483.2 640.7,480.3 641.4,477.4 642.1,474.4 642.8,471.5 643.5,468.6 644.3,465.7 645.0,462.7 645.7,459.8 646.4,456.9 647.1,454.0 647.8,451.0 648.5,448.1 649.2,445.2 650.0,442.3 650.7,439.4 651.4,436.5 652.1,433.5 652.8,430.6 653.5,427.7 654.2,424.8 654.9,421.9 655.6,419.0 656.4,416.1 657.1,413.1 657.8,410.2 658.5,407.3 659.2,404.4 659.9,401.5 660.6,398.6 661.3,395.7 662.0,392.8 662.7,389.9 663.3,387.0 664.0,384.1 664.7,381.2 665.4,378.3 666.1,375.5 666.8,372.6 667.4,369.7 668.1,366.8 668.8,363.9 669.4,361.0 670.1,358.2 670.7,355.3 671.4,352.4 672.1,349.6 672.7,346.7 673.4,343.8 674.0,341.0 674.7,338.1 675.4,335.3 676.0,332.4 676.7,329.6 677.4,326.7 678.1,323.9 678.8,321.0 679.5,318.2 680.2,315.4 681.0,312.5 681.8,309.7 682.5,306.9 683.3,304.1 684.1,301.2 685.0,298.4 685.8,295.6 686.7,292.8 687.6,290.0 688.5,287.2 689.4,284.4 690.4,281.6 691.3,278.8 692.4,276.1 693.4,273.3 694.5,270.5 695.5,267.7 696.7,265.0 697.8,262.2 698.9,259.5 700.1,256.7 701.3,254.0 702.5,251.2 703.8,248.5 705.0,245.7 706.3,243.0 707.6,240.3 709.0,237.6 710.3,234.8 711.7,232.1 713.1,229.4 714.5,226.7 715.9,224.0 717.4,221.3 718.9,218.7 720.4,216.0 722.0,213.3 723.6,210.6 725.2,208.0 726.8,205.3 728.5,202.7 730.2,200.0 731.9,197.4 733.6,194.8 735.4,192.2 737.2,189.6 739.1,187.0 740.9,184.5 742.9,182.0 744.8,179.5 746.8,177.1 748.8,174.8 750.9,172.5 753.0,170.2 755.2,168.1 757.4,166.0 759.7,163.9 762.0,161.9 764.3,160.1 766.7,158.3 769.2,156.6 771.7,154.9 774.2,153.4 776.7,152.0 779.3,150.7 781.9,149.6 784.6,148.5 787.2,147.6 789.9,146.8 792.6,146.2 795.2,145.7 797.9,145.3 800.6,145.2 803.3,145.1 805.9,145.3 808.6,145.5 811.2,146.0 813.9,146.5 816.5,147.2 819.1,148.0 821.7,149.0 824.3,150.0 826.9,151.2 829.5,152.4 832.1,153.8 834.7,155.2 837.3,156.7 839.8,158.3 842.4,159.9 844.9,161.6 847.5,163.4 850.0,165.1 852.5,167.0 855.1,168.8 857.6,170.7 860.1,172.6 862.6,174.5 865.1,176.4 867.6,178.3 870.1,180.2 872.5,182.1 875.0,184.1 877.5,186.0 879.9,187.9 882.4,189.9 884.8,191.8 887.3,193.7 889.7,195.6 892.2,197.6 894.6,199.5 897.0,201.4 899.4,203.3 901.8,205.1 904.2,207.0 906.6,208.9 909.0,210.7 911.4,212.6 913.8,214.4 916.2,216.2 918.5,218.0 920.9,219.8 923.3,221.6 925.6,223.4 928.0,225.2 930.3,226.9 932.7,228.7 935.0,230.5 937.3,232.3 939.7,234.1 942.0,235.8 944.3,237.6 946.6,239.4 948.9,241.2 951.2,243.0 953.6,244.8 955.9,246.7 958.1,248.5 960.4,250.3 962.7,252.2 965.0,254.1 967.3,256.0 969.6,257.9 971.8,259.8 974.1,261.7 976.4,263.7 978.6,265.6 980.9,267.6 983.2,269.6 985.4,271.7 987.7,273.8 989.9,275.8 992.2,278.0 994.4,280.1"/>
<path d="M160.0,1185.2L160.1,1185.2 162.8,1185.2 165.6,1185.2 168.3,1185.2 171.1,1185.2 173.9,1185.2 176.7,1185.2 179.6,1185.2 182.4,1185.2 185.3,1185.2 188.2,1185.2 191.0,1185.2 193.9,1185.2 196.9,1185.2 199.8,1185.2 202.7,1185.2 205.7,1185.2 208.6,1185.2 211.6,1185.2 214.6,1185.2 217.5,1185.2 220.5,1185.2 223.5,1185.2 226.5,1185.2 229.6,1185.2 232.6,1185.2 235.6,1185.2 238.6,1185.2 241.7,1185.1 244.7,1185.1 247.8,1185.1 250.9,1185.1 253.9,1185.1 257.0,1185.1 260.1,1185.1 263.1,1185.1 266.2,1185.1 269.3,1185.1 272.4,1185.1 275.5,1185.1 278.5,1185.1 281.6,1185.1 284.7,1185.1 287.8,1185.0 290.9,1185.0 294.0,1185.0 297.1,1185.0 300.1,1185.0 303.2,1185.0 306.3,1184.8 309.4,1184.7 312.4,1184.5 315.5,1184.3 318.6,1184.1 321.6,1184.0 324.7,1183.8 327.7,1183.7 330.8,1183.5 333.8,1183.2 336.9,1182.9 339.9,1182.4 342.9,1181.9 345.9,1181.4 348.9,1181.0 351.9,1180.5 354.9,1180.1 357.9,1179.7 360.9,1179.3 363.8,1178.9 366.8,1178.5 369.7,1178.0 372.6,1177.5 375.6,1176.9 378.5,1176.3 381.3,1175.7 384.2,1175.0 387.1,1174.2 389.9,1173.3 392.8,1172.4 395.6,1171.4 398.4,1170.3 401.2,1169.2 404.0,1168.1 406.8,1167.0 409.5,1165.8 412.2,1164.7 415.0,1163.5 417.7,1162.3 420.3,1161.1 423.0,1159.8 425.6,1158.5 428.3,1157.2 430.9,1155.8 433.5,1154.4 436.0,1153.0 438.6,1151.5 441.1,1150.0 443.6,1148.4 446.1,1146.8 448.6,1145.2 451.0,1143.5 453.4,1141.8 455.9,1140.1 458.2,1138.3 460.6,1136.5 463.0,1134.7 465.3,1132.8 467.6,1130.9 469.9,1129.0 472.2,1127.1 474.5,1125.1 476.7,1123.1 479.0,1121.1 481.2,1119.0 483.3,1117.0 485.5,1114.9 487.7,1112.8 489.8,1110.6 491.9,1108.4 494.0,1106.3 496.1,1104.1 498.2,1101.8 500.2,1099.6 502.2,1097.3 504.3,1095.1 506.2,1092.8 508.2,1090.5 510.2,1088.2 512.1,1085.8 514.0,1083.5 515.9,1081.1 517.8,1078.7 519.7,1076.4 521.5,1074.0 523.4,1071.6 525.2,1069.1 527.0,1066.7 528.8,1064.3 530.6,1061.8 532.3,1059.4 534.0,1056.9 535.8,1054.5 537.5,1052.0 539.2,1049.5 540.8,1047.0 542.5,1044.5 544.1,1042.0 545.8,1039.5 547.4,1037.0 549.0,1034.4 550.6,1031.9 552.1,1029.3 553.7,1026.8 555.2,1024.2 556.8,1021.7 558.3,1019.1 559.8,1016.5 561.3,1013.9 562.8,1011.3 564.2,1008.7 565.7,1006.1 567.1,1003.5" stroke-dasharray="24.6 12.5 0.01 12.7 0.01 12.6" stroke-dashoffset="2.24"/>
<path d="M567.1,1003.5L568.5,1000.8 570.0,998.2 571.4,995.6 572.8,992.9 574.1,990.3 575.5,987.6 576.9,985.0 578.2,982.3 579.6,979.6 580.9,977.0 582.2,974.3 583.5,971.6 584.8,968.9 586.1,966.2 587.4,963.5 588.6,960.8 589.9,958.1 591.2,955.4 592.4,952.6 593.6,949.9 594.9,947.2 596.1,944.5 597.3,941.7 598.5,939.0 599.7,936.2 600.9,933.5 602.0,930.8 603.2,928.0 604.4,925.2 605.5,922.5 606.7,919.7 607.8,917.0 609.0,914.2 610.1,911.4 611.2,908.6 612.4,905.9 613.5,903.1 614.6,900.3 615.7,897.5 616.8,894.7 617.9,892.0 619.0,889.2 620.1,886.4 621.1,883.6 622.2,880.8 623.3,878.0 624.4,875.2 625.4,872.4 626.5,869.6 627.5,866.8 628.6,864.0 629.6,861.2 630.7,858.4 631.7,855.6 632.8,852.8 633.8,850.0 634.8,847.2 635.8,844.3 636.8,841.5 637.9,838.7 638.9,835.9 639.9,833.1 640.9,830.3 641.9,827.4 642.9,824.6 643.8,821.8 644.8,819.0 645.8,816.1 646.8,813.3 647.8,810.5 648.7,807.6 649.7,804.8 650.7,802.0 651.6,799.1 652.6,796.3 653.5,793.5 654.5,790.6 655.4,787.8 656.4,784.9 657.3,782.1 658.2,779.2 659.2,776.4 660.1,773.5 661.0,770.7 661.9,767.8 662.9,765.0 663.8,762.1 664.7,759.3 665.6,756.4 666.5,753.6 667.4,750.7 668.3,747.9 669.2,745.0 670.1,742.2 671.0,739.3 671.9,736.4 672.8,733.6 673.6,730.7 674.5,727.9 675.4,725.0 676.3,722.1 677.1,719.3 678.0,716.4 678.9,713.5 679.7,710.7 680.6,707.8 681.5,704.9 682.3,702.1 683.2,699.2 684.0,696.3 684.9,693.4 685.7,690.6 686.6,687.7 687.4,684.8 688.3,681.9 689.1,679.1 689.9,676.2 690.8,673.3 691.6,670.4 692.4,667.6 693.2,664.7 694.1,661.8 694.9,658.9 695.7,656.0 696.5,653.2 697.4,650.3 698.2,647.4 699.0,644.5 699.8,641.6 700.6,638.8 701.4,635.9 702.2,633.0 703.0,630.1 703.8,627.2 704.6,624.3 705.4,621.5 706.2,618.6 707.0,615.7 707.8,612.8 708.6,609.9 709.4,607.0 710.2,604.1 711.0,601.3 711.8,598.4 712.6,595.5 713.4,592.6 714.2,589.7 715.0,586.8 715.8,583.9 716.5,581.1 717.3,578.2 718.1,575.3 718.9,572.4 719.7,569.5 720.4,566.6 721.2,563.7 722.0,560.9 722.8,558.0 723.6,555.1 724.3,552.2 725.1,549.3 725.9,546.4 726.7,543.5 727.4,540.6 728.2,537.8 729.0,534.9 729.7,532.0 730.5,529.1 731.3,526.2 732.1,523.3 732.8,520.5 733.6,517.6 734.4,514.7 735.1,511.8 735.9,508.9 736.7,506.0 737.5,503.2 738.2,500.3 739.0,497.4 739.8,494.5 740.5,491.6 741.3,488.7 742.1,485.9 742.9,483.0 743.6,480.1 744.4,477.2 745.2,474.4 746.0,471.5 746.7,468.6 747.5,465.7 748.3,462.8 749.1,460.0 749.9,457.1 750.6,454.2 751.4,451.3 752.2,448.5 753.0,445.6 753.8,442.7 754.6,439.9 755.4,437.0 756.2,434.1 757.0,431.3 757.8,428.4 758.6,425.5 759.4,422.7 760.2,419.8 761.0,416.9 761.8,414.1 762.6,411.2 763.4,408.3 764.2,405.5 765.0,402.6 765.8,399.8 766.7,396.9 767.5,394.0 768.3,391.2 769.1,388.3 770.0,385.5 770.8,382.6 771.6,379.8 772.5,376.9 773.3,374.1 774.2,371.2 775.0,368.4 775.9,365.5 776.7,362.7 777.6,359.8 778.4,357.0 779.3,354.2 780.2,351.3 781.0,348.5 781.9,345.6" stroke-dasharray="24.6 12.5 0.01 12.7 0.01 12.6" stroke-dashoffset="47.88"/>
<path d="M781.9,345.6L782.8,342.8 783.7,340.0 784.6,337.1 785.5,334.3 786.4,331.5 787.3,328.6 788.2,325.8 789.1,323.0 790.0,320.1 790.9,317.3 791.9,314.5 792.8,311.7 793.8,308.9 794.8,306.0 795.8,303.2 796.8,300.4 797.8,297.6 798.8,294.8 799.8,292.0 800.9,289.2 802.0,286.5 803.1,283.7 804.2,280.9 805.3,278.2 806.5,275.5 807.7,272.7 808.9,270.0 810.1,267.3 811.4,264.6 812.7,261.9 814.0,259.3 815.4,256.6 816.7,254.0 818.2,251.3 819.6,248.7 821.1,246.1 822.6,243.6 824.1,241.0 825.7,238.5 827.3,235.9 829.0,233.4 830.7,231.0 832.4,228.5 834.2,226.1 836.0,223.6 837.9,221.2 839.8,218.9 841.7,216.5 843.7,214.2 845.8,211.9 847.9,209.6 850.0,207.4 852.2,205.2 854.5,203.0 856.7,201.0 859.1,199.0 861.4,197.1 863.9,195.4 866.3,193.9 868.8,192.6 871.3,191.5 873.9,190.5 876.5,189.8 879.1,189.3 881.7,189.0 884.4,188.8 887.1,188.7 889.8,188.8 892.6,189.0 895.3,189.4 898.1,189.8 900.9,190.3 903.7,191.0 906.5,191.6 909.3,192.4 912.2,193.2 915.0,194.1 917.9,195.0 920.7,196.0 923.6,197.1 926.4,198.2 929.3,199.4 932.1,200.6 934.9,201.8 937.7,203.1 940.6,204.4 943.4,205.8 946.1,207.2 948.9,208.7 951.7,210.1 954.4,211.6 957.1,213.1 959.8,214.7 962.5,216.3 965.1,217.8 967.7,219.4 970.3,221.0 972.9,222.7 975.5,224.3 978.0,226.0 980.5,227.6 983.0,229.3 985.4,231.0 987.9,232.8 990.3,234.5 992.7,236.2 995.1,238.0 997.5,239.7 999.9,241.5 1002.2,243.3 1004.6,245.1 1006.9,246.9 1009.2,248.7 1011.5,250.6 1013.8,252.4 1016.1,254.3 1018.4,256.1 1020.7,258.0 1022.9,259.9 1025.2,261.7 1027.5,263.6 1029.7,265.5 1032.0,267.4 1034.2,269.3 1036.5,271.2 1038.7,273.2 1041.0,275.1 1043.2,277.0 1045.5,278.9 1047.8,280.9 1050.0,282.8 1052.3,284.7 1054.6,286.7 1056.8,288.6 1059.1,290.5 1061.4,292.5 1063.7,294.4 1066.0,296.4 1068.4,298.3 1070.7,300.3 1073.0,302.2 1075.3,304.1 1077.7,306.1 1080.0,308.0 1082.4,309.9 1084.7,311.9 1087.1,313.8 1089.4,315.7 1091.8,317.6 1094.1,319.5 1096.5,321.4 1098.8,323.3 1101.2,325.2 1103.6,327.1 1105.9,329.0 1108.3,330.9 1110.6,332.7 1113.0,334.6 1115.3,336.4 1117.6,338.3 1120.0,340.1 1122.3,341.9 1124.6,343.8 1127.0,345.6 1129.3,347.3 1131.6,349.1 1133.9,350.9 1136.2,352.7 1138.4,354.4 1140.7,356.1 1143.0,357.8" stroke-dasharray="24.6 12.5 0.01 12.7 0.01 12.6" stroke-dashoffset="56.39"/>
<path d="M160.0,1185.2L160.3,1185.2 163.2,1185.2 166.0,1185.2 168.8,1185.2 171.7,1185.2 174.5,1185.2 177.4,1185.2 180.3,1185.2 183.2,1185.2 186.1,1185.2 188.9,1185.2 191.8,1185.2 194.8,1185.2 197.7,1185.2 200.6,1185.2 203.5,1185.2 206.4,1185.2 209.4,1185.2 212.3,1185.2 215.3,1185.2 218.2,1185.2 221.2,1185.2 224.2,1185.2 227.1,1185.2 230.1,1185.2 233.1,1185.2 236.1,1185.2 239.1,1185.2 242.1,1185.2 245.1,1185.2 248.1,1185.2 251.1,1185.2 254.1,1185.2 257.1,1185.2 260.1,1185.2 263.2,1185.1 266.2,1185.1 269.2,1185.1 272.2,1185.1 275.3,1185.1 278.3,1185.1 281.3,1185.1 284.4,1185.1 287.4,1185.1 290.5,1185.1 293.5,1185.1 296.6,1185.1 299.6,1185.1 302.7,1185.1 305.7,1185.1 308.8,1185.1 311.9,1185.1 314.9,1185.0 318.0,1185.0 321.0,1185.0 324.1,1184.9 327.2,1184.9 330.2,1184.9 333.3,1184.8 336.3,1184.8 339.4,1184.8 342.5,1184.7 345.5,1184.7 348.6,1184.7 351.6,1184.6 354.7,1184.6 357.7,1184.5 360.8,1184.5 363.8,1184.4 366.9,1184.3 370.0,1184.3 373.0,1184.2 376.0,1184.1 379.1,1184.0 382.1,1183.8 385.2,1183.7 388.2,1183.5 391.2,1183.3 394.3,1183.1 397.3,1182.9 400.3,1182.7 403.3,1182.5 406.4,1182.2 409.4,1181.9 412.4,1181.5 415.4,1181.1 418.4,1180.6 421.4,1180.1 424.4,1179.6 427.4,1179.0 430.4,1178.5 433.4,1178.0 436.3,1177.6 439.3,1177.3 442.3,1176.9 445.2,1176.6 448.2,1176.3 451.1,1176.0 454.1,1175.7 457.0,1175.4 459.9,1175.0 462.9,1174.6 465.8,1174.1 468.7,1173.6 471.6,1173.0 474.5,1172.4 477.4,1171.7 480.3,1171.0 483.2,1170.3 486.0,1169.5 488.9,1168.7 491.7,1167.8 494.6,1167.0 497.4,1166.1 500.3,1165.2 503.1,1164.3 505.9,1163.3 508.7,1162.4 511.5,1161.4 514.3,1160.4 517.1,1159.4 519.8,1158.4 522.6,1157.3 525.4,1156.3 528.1,1155.2 530.8,1154.0 533.6,1152.9 536.3,1151.7 539.0,1150.5 541.7,1149.3 544.4,1148.1 547.0,1146.8 549.7,1145.5 552.3,1144.2 555.0,1142.9 557.6,1141.5 560.2,1140.1 562.8,1138.7 565.4,1137.3 568.0,1135.8 570.6,1134.3 573.1,1132.8 575.7,1131.3 578.2,1129.7 580.7,1128.1 583.2,1126.5 585.7,1124.9 588.2,1123.2 590.7,1121.6 593.1,1119.9 595.6,1118.1 598.0,1116.4 600.4,1114.6 602.8,1112.8 605.2,1110.9 607.6,1109.1 610.0,1107.2 612.3,1105.3 614.6,1103.4 617.0,1101.4 619.3,1099.4 621.5,1097.4 623.8,1095.4 626.1,1093.4 628.3,1091.3 630.5,1089.2 632.7,1087.1 634.9,1085.0 637.1,1082.9 639.3,1080.8 641.4,1078.6 643.5,1076.4 645.6,1074.2 647.7,1072.0 649.8,1069.8 651.8,1067.6 653.8,1065.3 655.8,1063.1" stroke-dasharray="28.3 33" stroke-dashoffset="56.51"/>
<path d="M655.8,1063.1L657.8,1060.8 659.8,1058.6 661.8,1056.3 663.7,1054.0 665.6,1051.7 667.5,1049.4 669.4,1047.1 671.3,1044.8 673.1,1042.4 675.0,1040.1 676.8,1037.7 678.6,1035.4 680.4,1033.0 682.2,1030.7 684.0,1028.3 685.7,1025.9 687.5,1023.5 689.2,1021.1 691.0,1018.7 692.7,1016.2 694.4,1013.8 696.1,1011.4 697.8,1008.9 699.5,1006.5 701.2,1004.0 702.8,1001.6 704.5,999.1 706.2,996.6 707.8,994.2 709.5,991.7 711.1,989.2 712.8,986.7 714.4,984.2 716.1,981.7 717.7,979.1 719.3,976.6 721.0,974.1 722.6,971.6 724.2,969.0 725.9,966.5 727.5,963.9 729.1,961.4 730.7,958.8 732.3,956.2 733.9,953.7 735.5,951.1 737.1,948.5 738.7,945.9 740.3,943.4 741.9,940.8 743.4,938.2 745.0,935.6 746.5,933.0 748.1,930.4 749.6,927.8 751.1,925.1 752.6,922.5 754.1,919.9 755.6,917.3 757.1,914.7 758.5,912.0 760.0,909.4 761.4,906.8 762.8,904.1 764.2,901.5 765.7,898.8 767.1,896.2 768.4,893.6 769.8,890.9 771.2,888.2 772.6,885.6 773.9,882.9 775.3,880.3 776.6,877.6 777.9,874.9 779.2,872.3 780.6,869.6 781.9,866.9 783.2,864.2 784.5,861.5 785.7,858.9 787.0,856.2 788.3,853.5 789.6,850.8 790.8,848.1 792.1,845.4 793.3,842.7 794.6,840.0 795.8,837.3 797.0,834.6 798.3,831.9 799.5,829.2 800.7,826.4 801.9,823.7 803.1,821.0 804.3,818.3 805.5,815.6 806.7,812.8 807.9,810.1 809.1,807.4 810.3,804.6 811.5,801.9 812.7,799.2 813.8,796.4 815.0,793.7 816.2,790.9 817.4,788.2 818.6,785.4 819.7,782.7 820.9,779.9 822.1,777.2 823.2,774.4 824.4,771.7 825.6,768.9 826.7,766.2 827.9,763.4 829.1,760.6 830.3,757.9 831.4,755.1 832.6,752.3 833.8,749.5 834.9,746.8 836.1,744.0 837.3,741.2 838.4,738.4 839.6,735.6 840.8,732.9 842.0,730.1 843.1,727.3 844.3,724.5 845.5,721.7 846.6,718.9 847.8,716.1 848.9,713.3 850.1,710.5 851.2,707.7 852.4,704.9 853.5,702.1 854.7,699.3 855.8,696.5 856.9,693.7 858.1,690.9 859.2,688.1 860.3,685.3 861.4,682.5 862.5,679.7 863.6,676.9 864.7,674.1 865.8,671.2 866.9,668.4 868.0,665.6 869.0,662.8 870.1,660.0 871.1,657.1 872.2,654.3 873.2,651.5 874.3,648.7 875.3,645.9 876.3,643.0 877.3,640.2 878.3,637.4 879.3,634.5 880.3,631.7 881.3,628.9 882.3,626.1 883.3,623.2 884.3,620.4 885.3,617.6 886.2,614.8 887.2,611.9 888.2,609.1 889.1,606.3 890.1,603.4 891.1,600.6 892.0,597.8 893.0,595.0 894.0,592.2 894.9,589.3 895.9,586.5 896.8,583.7 897.8,580.9 898.7,578.0 899.7,575.2 900.7,572.4 901.6,569.6 902.6,566.8 903.6,564.0 904.5,561.2 905.5,558.4 906.5,555.5 907.4,552.7 908.4,549.9 909.4,547.1 910.4,544.3 911.4,541.5 912.4,538.7 913.4,536.0 914.4,533.2 915.4,530.4 916.4,527.6 917.4,524.8 918.4,522.0 919.5,519.2 920.5,516.5 921.6,513.7 922.6,510.9 923.7,508.2 924.7,505.4 925.8,502.6 926.9,499.9 928.0,497.1 929.1,494.4 930.2,491.6 931.3,488.9 932.5,486.2 933.6,483.4 934.7,480.7 935.9,478.0 937.1,475.3 938.3,472.5 939.5,469.8 940.7,467.1 941.9,464.4 943.1,461.7 944.3,459.0 945.6,456.3 946.9,453.6 948.1,450.9 949.4,448.3 950.7,445.6 952.1,442.9 953.4,440.3 954.8,437.6 956.1,435.0" stroke-dasharray="28.3 33" stroke-dashoffset="35.42"/>
<path d="M956.1,435.0L957.5,432.3 958.9,429.7 960.3,427.0 961.7,424.4 963.2,421.8 964.6,419.2 966.1,416.5 967.6,413.9 969.2,411.3 970.7,408.7 972.2,406.1 973.8,403.6 975.4,401.0 977.0,398.4 978.7,395.8 980.4,393.3 982.0,390.7 983.8,388.2 985.5,385.6 987.2,383.1 989.0,380.6 990.8,378.1 992.7,375.6 994.5,373.1 996.4,370.7 998.3,368.2 1000.2,365.8 1002.2,363.4 1004.1,361.0 1006.1,358.7 1008.1,356.4 1010.2,354.1 1012.3,351.9 1014.4,349.7 1016.5,347.5 1018.6,345.3 1020.8,343.2 1023.0,341.2 1025.2,339.2 1027.5,337.2 1029.7,335.3 1032.0,333.4 1034.3,331.6 1036.7,329.8 1039.1,328.1 1041.5,326.4 1043.9,324.8 1046.3,323.3 1048.8,321.8 1051.3,320.4 1053.9,319.1 1056.4,317.8 1059.0,316.6 1061.6,315.4 1064.3,314.3 1066.9,313.4 1069.6,312.5 1072.3,311.7 1075.0,311.0 1077.8,310.5 1080.5,310.0 1083.3,309.7 1086.1,309.6 1088.9,309.6 1091.7,309.7 1094.5,310.0 1097.3,310.5 1100.1,311.1 1102.9,311.9 1105.7,312.7 1108.5,313.7 1111.3,314.8 1114.2,315.9 1117.0,317.1 1119.7,318.4 1122.5,319.7 1125.3,321.1 1128.0,322.6 1130.8,324.0 1133.5,325.5 1136.3,327.1 1139.0,328.6 1141.7,330.2 1144.5,331.8 1147.2,333.5 1149.9,335.1 1152.6,336.7 1155.3,338.3 1158.0,339.9 1160.7,341.5 1163.3,343.1 1166.0,344.7 1168.7,346.2 1171.4,347.7 1174.0,349.2 1176.7,350.6 1179.4,352.0 1182.0,353.4 1184.7,354.7 1187.3,356.0 1190.0,357.2 1192.7,358.5 1195.3,359.7 1198.0,360.9 1200.6,362.0 1203.3,363.2 1205.9,364.3 1208.5,365.5 1211.2,366.6 1213.8,367.8 1216.5,368.9 1219.1,370.1 1221.7,371.2 1224.4,372.4 1227.0,373.6 1229.6,374.8 1232.3,376.0 1234.9,377.3 1237.5,378.6 1240.1,379.9 1242.8,381.2 1245.4,382.6 1248.0,384.0 1250.6,385.5 1253.2,387.0 1255.8,388.6 1258.5,390.2 1261.1,391.9 1263.7,393.6 1266.3,395.4 1268.9,397.2 1271.5,399.0 1274.1,400.8 1276.7,402.6 1279.3,404.4 1281.9,406.2 1284.5,407.9 1287.1,409.6 1289.7,411.3 1292.3,412.9 1294.9,414.4 1297.5,415.9 1300.1,417.2 1302.7,418.5 1305.3,419.7 1307.9,420.7 1310.5,421.7 1313.1,422.5" stroke-dasharray="28.620 33.373" stroke-dashoffset="53.03"/>
</g>
<g fill="none" stroke-linecap="round" stroke-linejoin="round" stroke-width="13">
<path d="M501.0,973.9L502.1,971.1 503.2,968.3 504.3,965.5 505.4,962.7 506.4,959.9 507.5,957.1 508.6,954.3 509.6,951.5 510.7,948.7 511.8,945.9 512.8,943.1 513.9,940.3 514.9,937.5 516.0,934.7 517.0,931.9 518.0,929.0 519.1,926.2 520.1,923.4 521.1,920.6 522.1,917.8 523.2,915.0 524.2,912.2 525.2,909.3 526.2,906.5 527.2,903.7 528.2,900.9 529.2,898.1 530.2,895.2 531.2,892.4 532.2,889.6 533.2,886.8 534.2,883.9 535.1,881.1 536.1,878.3 537.1,875.4 538.1,872.6 539.0,869.8 540.0,867.0 540.9,864.1 541.9,861.3 542.9,858.4 543.8,855.6 544.8,852.8 545.7,849.9 546.6,847.1 547.6,844.3 548.5,841.4 549.5,838.6 550.4,835.7 551.3,832.9 552.2,830.0 553.2,827.2 554.1,824.3 555.0,821.5 555.9,818.6 556.8,815.8 557.7,812.9 558.6,810.1 559.5,807.2 560.4,804.4 561.3,801.5 562.2,798.7 563.1,795.8 564.0,793.0 564.9,790.1 565.8,787.2 566.6,784.4 567.5,781.5 568.4,778.7 569.3,775.8 570.1,772.9 571.0,770.1 571.9,767.2 572.7,764.3 573.6,761.5 574.4,758.6 575.3,755.7 576.1,752.9 577.0,750.0 577.8,747.1 578.7,744.2 579.5,741.4 580.3,738.5 581.2,735.6 582.0,732.7 582.8,729.9 583.7,727.0 584.5,724.1 585.3,721.2 586.1,718.4 586.9,715.5 587.8,712.6 588.6,709.7 589.4,706.8 590.2,704.0 591.0,701.1 591.8,698.2 592.6,695.3 593.4,692.4 594.2,689.5 595.0,686.7 595.8,683.8 596.6,680.9 597.3,678.0 598.1,675.1 598.9,672.2 599.7,669.3 600.5,666.4 601.2,663.5 602.0,660.7 602.8,657.8 603.6,654.9 604.3,652.0 605.1,649.1 605.8,646.2 606.6,643.3 607.4,640.4 608.1,637.5 608.9,634.6 609.6,631.7 610.4,628.8 611.1,625.9 611.9,623.0 612.6,620.1 613.4,617.2 614.1,614.3 614.8,611.4 615.6,608.5 616.3,605.6 617.0,602.7 617.8,599.8 618.5,596.9 619.2,594.0 619.9,591.1 620.7,588.2 621.4,585.3 622.1,582.3 622.8,579.4 623.5,576.5 624.2,573.6 624.9,570.7 625.7,567.8 626.4,564.9 627.1,562.0 627.8,559.1 628.5,556.2 629.2,553.3 629.9,550.3 630.6,547.4 631.3,544.5 632.0,541.6 632.7,538.7 633.3,535.8 634.0,532.9 634.7,529.9 635.4,527.0 636.1,524.1 636.8,521.2 637.5,518.3 638.1,515.4 638.8,512.4 639.5,509.5 640.2,506.6 640.8,503.7 641.5,500.8 642.2,497.9 642.8,494.9 643.5,492.0 644.2,489.1 644.8,486.2 645.5,483.3 646.2,480.3 646.8,477.4 647.5,474.5 648.1,471.6 648.8,468.6 649.4,465.7 650.1,462.8 650.8,459.9 651.4,457.0 652.0,454.0 652.7,451.1 653.3,448.2 654.0,445.3 654.6,442.3 655.3,439.4 655.9,436.5 656.6,433.6 657.2,430.6 657.8,427.7 658.5,424.8 659.1,421.9 659.7,418.9 660.4,416.0 661.0,413.1 661.6,410.2 662.3,407.2 662.9,404.3 663.5,401.4 664.2,398.4 664.8,395.5 665.4,392.6 666.0,389.7 666.7,386.7 667.3,383.8 667.9,380.9 668.5,378.0 669.1,375.0 669.8,372.1 670.4,369.2 671.0,366.2 671.6,363.3 672.2,360.4 672.8,357.5 673.4,354.5 674.1,351.6 674.7,348.7 675.3,345.7 675.9,342.8 676.5,339.9 677.1,336.9 677.7,334.0 678.3,331.1 678.9,328.2 679.5,325.2 680.1,322.3 680.7,319.4 681.3,316.4 681.9,313.5 682.6,310.6 683.2,307.7 683.8,304.7 684.4,301.8 685.0,298.9 685.6,295.9 686.1,293.0 686.7,290.1 687.3,287.1 687.9,284.2 688.5,281.3 689.1,278.4" stroke="#d20000"/>
<path d="M567.1,1001.1L568.6,998.4 570.2,995.8 571.8,993.2 573.3,990.5 574.8,987.9 576.4,985.3 577.9,982.6 579.4,980.0 580.9,977.3 582.4,974.7 583.8,972.0 585.3,969.4 586.8,966.7 588.2,964.0 589.7,961.4 591.1,958.7 592.5,956.0 593.9,953.4 595.3,950.7 596.7,948.0 598.1,945.3 599.4,942.6 600.8,939.9 602.1,937.2 603.5,934.5 604.8,931.8 606.1,929.1 607.4,926.4 608.7,923.7 610.0,921.0 611.3,918.3 612.6,915.6 613.9,912.8 615.1,910.1 616.4,907.4 617.6,904.7 618.8,901.9 620.0,899.2 621.2,896.5 622.4,893.7 623.6,891.0 624.8,888.2 626.0,885.5 627.1,882.7 628.3,880.0 629.4,877.2 630.6,874.5 631.7,871.7 632.8,868.9 633.9,866.2 635.0,863.4 636.1,860.6 637.2,857.9 638.3,855.1 639.4,852.3 640.4,849.5 641.5,846.8 642.5,844.0 643.6,841.2 644.6,838.4 645.6,835.6 646.6,832.8 647.7,830.0 648.7,827.2 649.7,824.4 650.7,821.6 651.6,818.8 652.6,816.0 653.6,813.2 654.6,810.4 655.5,807.6 656.5,804.8 657.4,802.0 658.4,799.1 659.3,796.3 660.2,793.5 661.2,790.7 662.1,787.8 663.0,785.0 663.9,782.2 664.8,779.4 665.7,776.5 666.6,773.7 667.5,770.9 668.4,768.0 669.3,765.2 670.2,762.3 671.0,759.5 671.9,756.6 672.8,753.8 673.6,751.0 674.5,748.1 675.4,745.3 676.2,742.4 677.1,739.5 677.9,736.7 678.7,733.8 679.6,731.0 680.4,728.1 681.2,725.2 682.1,722.4 682.9,719.5 683.7,716.7 684.5,713.8 685.4,710.9 686.2,708.0 687.0,705.2 687.8,702.3 688.6,699.4 689.4,696.5 690.2,693.7 691.1,690.8 691.9,687.9 692.7,685.0 693.5,682.2 694.3,679.3 695.1,676.4 695.9,673.5 696.7,670.6 697.5,667.7 698.3,664.8 699.1,661.9 699.9,659.1 700.6,656.2 701.4,653.3 702.2,650.4 703.0,647.5 703.8,644.6 704.6,641.7 705.4,638.8 706.2,635.9 707.0,633.0 707.8,630.1 708.6,627.2 709.4,624.3 710.2,621.4 711.0,618.5 711.8,615.6 712.6,612.7 713.4,609.8 714.2,606.9 715.0,604.0 715.8,601.1 716.6,598.2 717.4,595.2 718.2,592.3 719.0,589.4 719.8,586.5 720.6,583.6 721.4,580.7 722.2,577.8 723.0,574.9 723.8,572.0 724.6,569.1 725.4,566.1 726.2,563.2 726.9,560.3 727.7,557.4 728.5,554.5 729.3,551.6 730.1,548.7 730.9,545.7 731.6,542.8 732.4,539.9 733.2,537.0 734.0,534.1 734.8,531.2 735.5,528.3 736.3,525.3 737.1,522.4 737.8,519.5 738.6,516.6 739.4,513.7 740.1,510.8 740.9,507.8 741.6,504.9 742.4,502.0 743.1,499.1 743.9,496.2 744.6,493.3 745.4,490.3 746.1,487.4 746.9,484.5 747.6,481.6 748.3,478.7 749.1,475.8 749.8,472.9 750.5,469.9 751.2,467.0 751.9,464.1 752.7,461.2 753.4,458.3 754.1,455.4 754.8,452.5 755.5,449.6 756.2,446.6 756.9,443.7 757.6,440.8 758.3,437.9 759.0,435.0 759.6,432.1 760.3,429.2 761.0,426.3 761.7,423.4 762.3,420.5 763.0,417.6 763.6,414.6 764.3,411.7 764.9,408.8 765.6,405.9 766.2,403.0 766.9,400.1 767.5,397.2 768.1,394.3 768.7,391.4 769.4,388.5 770.0,385.6 770.6,382.7 771.2,379.8 771.8,376.9 772.4,374.0 773.0,371.2 773.6,368.3 774.1,365.4 774.7,362.5 775.3,359.6 775.8,356.7 776.4,353.8 777.0,350.9 777.5,348.0 778.1,345.2" stroke="#00d300"/>
<path d="M655.7,1062.5L657.7,1060.3 659.6,1058.0 661.6,1055.7 663.6,1053.5 665.5,1051.2 667.5,1048.9 669.4,1046.6 671.3,1044.3 673.3,1042.0 675.2,1039.7 677.1,1037.4 679.0,1035.1 680.9,1032.7 682.8,1030.4 684.6,1028.0 686.5,1025.7 688.4,1023.3 690.2,1021.0 692.1,1018.6 693.9,1016.2 695.7,1013.9 697.5,1011.5 699.3,1009.1 701.2,1006.7 702.9,1004.3 704.7,1001.9 706.5,999.5 708.3,997.1 710.1,994.6 711.8,992.2 713.6,989.8 715.3,987.3 717.0,984.9 718.7,982.4 720.5,980.0 722.2,977.5 723.9,975.0 725.5,972.6 727.2,970.1 728.9,967.6 730.6,965.1 732.2,962.6 733.9,960.1 735.5,957.6 737.1,955.1 738.7,952.6 740.4,950.1 742.0,947.6 743.6,945.0 745.1,942.5 746.7,940.0 748.3,937.4 749.8,934.9 751.4,932.3 752.9,929.8 754.5,927.2 756.0,924.7 757.5,922.1 759.0,919.5 760.5,916.9 762.0,914.4 763.5,911.8 764.9,909.2 766.4,906.6 767.9,904.0 769.3,901.4 770.7,898.8 772.2,896.2 773.6,893.5 775.0,890.9 776.4,888.3 777.8,885.7 779.2,883.0 780.6,880.4 781.9,877.8 783.3,875.1 784.7,872.5 786.0,869.8 787.4,867.2 788.7,864.5 790.1,861.9 791.4,859.2 792.7,856.5 794.0,853.9 795.3,851.2 796.6,848.5 797.9,845.8 799.2,843.1 800.5,840.4 801.8,837.7 803.0,835.1 804.3,832.4 805.6,829.7 806.8,826.9 808.1,824.2 809.3,821.5 810.5,818.8 811.8,816.1 813.0,813.4 814.2,810.7 815.4,807.9 816.6,805.2 817.9,802.5 819.1,799.7 820.3,797.0 821.5,794.3 822.6,791.5 823.8,788.8 825.0,786.0 826.2,783.3 827.4,780.5 828.5,777.8 829.7,775.0 830.9,772.3 832.0,769.5 833.2,766.7 834.3,764.0 835.5,761.2 836.6,758.4 837.8,755.7 838.9,752.9 840.1,750.1 841.2,747.3 842.3,744.5 843.5,741.8 844.6,739.0 845.7,736.2 846.8,733.4 848.0,730.6 849.1,727.8 850.2,725.0 851.3,722.2 852.4,719.4 853.5,716.6 854.6,713.8 855.7,711.0 856.8,708.2 857.8,705.4 858.9,702.6 860.0,699.8 861.1,697.0 862.1,694.2 863.2,691.4 864.2,688.6 865.3,685.8 866.3,682.9 867.4,680.1 868.4,677.3 869.5,674.5 870.5,671.7 871.5,668.9 872.5,666.0 873.5,663.2 874.5,660.4 875.5,657.6 876.5,654.7 877.5,651.9 878.5,649.1 879.5,646.3 880.5,643.4 881.4,640.6 882.4,637.8 883.4,634.9 884.3,632.1 885.3,629.3 886.2,626.5 887.2,623.6 888.1,620.8 889.1,618.0 890.0,615.1 891.0,612.3 891.9,609.5 892.8,606.6 893.8,603.8 894.7,601.0 895.6,598.1 896.5,595.3 897.4,592.5 898.4,589.7 899.3,586.8 900.2,584.0 901.1,581.2 902.0,578.3 902.9,575.5 903.9,572.7 904.8,569.8 905.7,567.0 906.6,564.2 907.5,561.3 908.4,558.5 909.3,555.7 910.3,552.9 911.2,550.0 912.1,547.2 913.0,544.4 913.9,541.6 914.9,538.7 915.8,535.9 916.7,533.1 917.7,530.3 918.6,527.5 919.6,524.6 920.5,521.8 921.5,519.0 922.4,516.2 923.4,513.4 924.4,510.6 925.3,507.7 926.3,504.9 927.3,502.1 928.3,499.3 929.3,496.5 930.3,493.7 931.4,490.9 932.4,488.1 933.4,485.3 934.5,482.5 935.5,479.7 936.6,476.9 937.6,474.1 938.7,471.3 939.8,468.5 940.9,465.7 942.0,462.9 943.1,460.1 944.3,457.4 945.4,454.6 946.6,451.8 947.7,449.0 948.9,446.2 950.1,443.5 951.3,440.7 952.5,437.9 953.7,435.2" stroke="#2e2eff"/>
</g>
<g stroke="#000" stroke-linecap="round" fill="none">
<line x1="225.5" y1="1238.3" x2="225.5" y2="1221.3" stroke-width="1.5"/>
<line x1="225.5" y1="46.7" x2="225.5" y2="63.7" stroke-width="1.5"/>
<line x1="291.2" y1="1238.3" x2="291.2" y2="1221.3" stroke-width="1.5"/>
<line x1="291.2" y1="46.7" x2="291.2" y2="63.7" stroke-width="1.5"/>
<line x1="356.9" y1="1238.3" x2="356.9" y2="1221.3" stroke-width="1.5"/>
<line x1="356.9" y1="46.7" x2="356.9" y2="63.7" stroke-width="1.5"/>
<line x1="422.6" y1="1238.3" x2="422.6" y2="1221.3" stroke-width="1.5"/>
<line x1="422.6" y1="46.7" x2="422.6" y2="63.7" stroke-width="1.5"/>
<line x1="554.1" y1="1238.3" x2="554.1" y2="1221.3" stroke-width="1.5"/>
<line x1="554.1" y1="46.7" x2="554.1" y2="63.7" stroke-width="1.5"/>
<line x1="619.8" y1="1238.3" x2="619.8" y2="1221.3" stroke-width="1.5"/>
<line x1="619.8" y1="46.7" x2="619.8" y2="63.7" stroke-width="1.5"/>
<line x1="685.5" y1="1238.3" x2="685.5" y2="1221.3" stroke-width="1.5"/>
<line x1="685.5" y1="46.7" x2="685.5" y2="63.7" stroke-width="1.5"/>
<line x1="751.2" y1="1238.3" x2="751.2" y2="1221.3" stroke-width="1.5"/>
<line x1="751.2" y1="46.7" x2="751.2" y2="63.7" stroke-width="1.5"/>
<line x1="882.6" y1="1238.3" x2="882.6" y2="1221.3" stroke-width="1.5"/>
<line x1="882.6" y1="46.7" x2="882.6" y2="63.7" stroke-width="1.5"/>
<line x1="948.3" y1="1238.3" x2="948.3" y2="1221.3" stroke-width="1.5"/>
<line x1="948.3" y1="46.7" x2="948.3" y2="63.7" stroke-width="1.5"/>
<line x1="1014.0" y1="1238.3" x2="1014.0" y2="1221.3" stroke-width="1.5"/>
<line x1="1014.0" y1="46.7" x2="1014.0" y2="63.7" stroke-width="1.5"/>
<line x1="1079.7" y1="1238.3" x2="1079.7" y2="1221.3" stroke-width="1.5"/>
<line x1="1079.7" y1="46.7" x2="1079.7" y2="63.7" stroke-width="1.5"/>
<line x1="1211.2" y1="1238.3" x2="1211.2" y2="1221.3" stroke-width="1.5"/>
<line x1="1211.2" y1="46.7" x2="1211.2" y2="63.7" stroke-width="1.5"/>
<line x1="1276.9" y1="1238.3" x2="1276.9" y2="1221.3" stroke-width="1.5"/>
<line x1="1276.9" y1="46.7" x2="1276.9" y2="63.7" stroke-width="1.5"/>
<line x1="1342.6" y1="1238.3" x2="1342.6" y2="1221.3" stroke-width="1.5"/>
<line x1="1342.6" y1="46.7" x2="1342.6" y2="63.7" stroke-width="1.5"/>
<line x1="1408.3" y1="1238.3" x2="1408.3" y2="1221.3" stroke-width="1.5"/>
<line x1="1408.3" y1="46.7" x2="1408.3" y2="63.7" stroke-width="1.5"/>
<line x1="160.0" y1="1239.4" x2="177.0" y2="1239.4" stroke-width="1.5"/>
<line x1="1471.5" y1="1239.4" x2="1454.5" y2="1239.4" stroke-width="1.5"/>
<line x1="160.0" y1="1131.0" x2="177.0" y2="1131.0" stroke-width="1.5"/>
<line x1="1471.5" y1="1131.0" x2="1454.5" y2="1131.0" stroke-width="1.5"/>
<line x1="160.0" y1="1076.7" x2="177.0" y2="1076.7" stroke-width="1.5"/>
<line x1="1471.5" y1="1076.7" x2="1454.5" y2="1076.7" stroke-width="1.5"/>
<line x1="160.0" y1="1022.5" x2="177.0" y2="1022.5" stroke-width="1.5"/>
<line x1="1471.5" y1="1022.5" x2="1454.5" y2="1022.5" stroke-width="1.5"/>
<line x1="160.0" y1="968.2" x2="177.0" y2="968.2" stroke-width="1.5"/>
<line x1="1471.5" y1="968.2" x2="1454.5" y2="968.2" stroke-width="1.5"/>
<line x1="160.0" y1="859.8" x2="177.0" y2="859.8" stroke-width="1.5"/>
<line x1="1471.5" y1="859.8" x2="1454.5" y2="859.8" stroke-width="1.5"/>
<line x1="160.0" y1="805.5" x2="177.0" y2="805.5" stroke-width="1.5"/>
<line x1="1471.5" y1="805.5" x2="1454.5" y2="805.5" stroke-width="1.5"/>
<line x1="160.0" y1="751.3" x2="177.0" y2="751.3" stroke-width="1.5"/>
<line x1="1471.5" y1="751.3" x2="1454.5" y2="751.3" stroke-width="1.5"/>
<line x1="160.0" y1="697.0" x2="177.0" y2="697.0" stroke-width="1.5"/>
<line x1="1471.5" y1="697.0" x2="1454.5" y2="697.0" stroke-width="1.5"/>
<line x1="160.0" y1="588.6" x2="177.0" y2="588.6" stroke-width="1.5"/>
<line x1="1471.5" y1="588.6" x2="1454.5" y2="588.6" stroke-width="1.5"/>
<line x1="160.0" y1="534.3" x2="177.0" y2="534.3" stroke-width="1.5"/>
<line x1="1471.5" y1="534.3" x2="1454.5" y2="534.3" stroke-width="1.5"/>
<line x1="160.0" y1="480.1" x2="177.0" y2="480.1" stroke-width="1.5"/>
<line x1="1471.5" y1="480.1" x2="1454.5" y2="480.1" stroke-width="1.5"/>
<line x1="160.0" y1="425.8" x2="177.0" y2="425.8" stroke-width="1.5"/>
<line x1="1471.5" y1="425.8" x2="1454.5" y2="425.8" stroke-width="1.5"/>
<line x1="160.0" y1="317.4" x2="177.0" y2="317.4" stroke-width="1.5"/>
<line x1="1471.5" y1="317.4" x2="1454.5" y2="317.4" stroke-width="1.5"/>
<line x1="160.0" y1="263.1" x2="177.0" y2="263.1" stroke-width="1.5"/>
<line x1="1471.5" y1="263.1" x2="1454.5" y2="263.1" stroke-width="1.5"/>
<line x1="160.0" y1="208.9" x2="177.0" y2="208.9" stroke-width="1.5"/>
<line x1="1471.5" y1="208.9" x2="1454.5" y2="208.9" stroke-width="1.5"/>
<line x1="160.0" y1="154.6" x2="177.0" y2="154.6" stroke-width="1.5"/>
<line x1="1471.5" y1="154.6" x2="1454.5" y2="154.6" stroke-width="1.5"/>
<line x1="160.0" y1="46.2" x2="177.0" y2="46.2" stroke-width="1.5"/>
<line x1="1471.5" y1="46.2" x2="1454.5" y2="46.2" stroke-width="1.5"/>
<line x1="159.8" y1="1238.3" x2="159.8" y2="1207.3" stroke-width="5.7"/>
<line x1="159.8" y1="46.7" x2="159.8" y2="77.7" stroke-width="5.7"/>
<line x1="488.4" y1="1238.3" x2="488.4" y2="1207.3" stroke-width="5.7"/>
<line x1="488.4" y1="46.7" x2="488.4" y2="77.7" stroke-width="5.7"/>
<line x1="816.9" y1="1238.3" x2="816.9" y2="1207.3" stroke-width="5.7"/>
<line x1="816.9" y1="46.7" x2="816.9" y2="77.7" stroke-width="5.7"/>
<line x1="1145.5" y1="1238.3" x2="1145.5" y2="1207.3" stroke-width="5.7"/>
<line x1="1145.5" y1="46.7" x2="1145.5" y2="77.7" stroke-width="5.7"/>
<line x1="1474.0" y1="1238.3" x2="1474.0" y2="1207.3" stroke-width="5.7"/>
<line x1="1474.0" y1="46.7" x2="1474.0" y2="77.7" stroke-width="5.7"/>
<line x1="160.0" y1="1185.2" x2="191.5" y2="1185.2" stroke-width="5.7"/>
<line x1="1474.0" y1="1185.2" x2="1443.0" y2="1185.2" stroke-width="5.7"/>
<line x1="160.0" y1="914.0" x2="191.5" y2="914.0" stroke-width="5.7"/>
<line x1="1474.0" y1="914.0" x2="1443.0" y2="914.0" stroke-width="5.7"/>
<line x1="160.0" y1="642.8" x2="191.5" y2="642.8" stroke-width="5.7"/>
<line x1="1474.0" y1="642.8" x2="1443.0" y2="642.8" stroke-width="5.7"/>
<line x1="160.0" y1="371.6" x2="191.5" y2="371.6" stroke-width="5.7"/>
<line x1="1474.0" y1="371.6" x2="1443.0" y2="371.6" stroke-width="5.7"/>
<line x1="160.0" y1="100.4" x2="191.5" y2="100.4" stroke-width="5.7"/>
<line x1="1474.0" y1="100.4" x2="1443.0" y2="100.4" stroke-width="5.7"/>
<rect x="160.0" y="46.7" width="1311.5" height="1191.6" stroke-width="6" stroke-linejoin="round"/>
<line x1="160.0" y1="1238.3" x2="1475.0" y2="1238.3" stroke-width="8"/>
</g>
<g font-weight="bold" font-size="80" fill="#000">
<text x="159.8" y="1308.0" text-anchor="middle">0</text>
<text x="488.4" y="1308.0" text-anchor="middle">50</text>
<text x="816.9" y="1308.0" text-anchor="middle">100</text>
<text x="1145.5" y="1308.0" text-anchor="middle">150</text>
<text x="1474.0" y="1308.0" text-anchor="middle">200</text>
<text x="140.5" y="1211.7" text-anchor="end">1</text>
<text x="140.5" y="940.5" text-anchor="end">2</text>
<text x="140.5" y="669.3" text-anchor="end">3</text>
<text x="140.5" y="398.1" text-anchor="end">4</text>
<text x="140.5" y="126.9" text-anchor="end">5</text>
</g>
<text x="728" y="1372" font-weight="bold" font-size="81">Time (ms)</text>
<text transform="translate(94.3,1137.5) rotate(-90)" font-weight="bold" font-size="81">In-chamber pressure (bar)</text>
<text x="237.5" y="136.3" font-weight="bold" font-size="65">50%CH</text>
<text x="464.5" y="144.3" font-weight="bold" font-size="44">4</text>
<text x="513.5" y="138" font-weight="bold" font-size="78" text-anchor="middle">+</text>
<text x="549.5" y="136.3" font-weight="bold" font-size="65">50%H</text>
<text x="731.0" y="144.3" font-weight="bold" font-size="44">2</text>
<g stroke="#000" stroke-width="5.5" stroke-linecap="round">
<line x1="236.5" y1="186.8" x2="353" y2="186.8"/>
<line x1="236.5" y1="261" x2="263.5" y2="261"/><line x1="284.5" y1="261" x2="284.6" y2="261"/><line x1="305" y1="261" x2="305.1" y2="261"/><line x1="327" y1="261" x2="353" y2="261"/>
<line x1="236.5" y1="332.8" x2="263.5" y2="332.8"/><line x1="286" y1="332.8" x2="312.8" y2="332.8"/><line x1="334" y1="332.8" x2="353" y2="332.8"/>
</g>
<g font-size="71" fill="#000">
<text x="0" y="0" transform="translate(385.5,207.3) skewX(-10)" font-style="italic">&#981;</text>
<text x="0" y="0" transform="translate(434,183.1) scale(1.13,0.8) translate(0,24.2)">=</text>
<text x="493.5" y="207.3">0.8</text>
<text x="0" y="0" transform="translate(385.5,279.7) skewX(-10)" font-style="italic">&#981;</text>
<text x="0" y="0" transform="translate(434,255.5) scale(1.13,0.8) translate(0,24.2)">=</text>
<text x="493.5" y="279.7">0.7</text>
<text x="0" y="0" transform="translate(385.5,351.5) skewX(-10)" font-style="italic">&#981;</text>
<text x="0" y="0" transform="translate(434,327.3) scale(1.13,0.8) translate(0,24.2)">=</text>
<text x="493.5" y="351.5">0.6</text>
</g>
<rect x="1528.3" y="0" width="40" height="1414" fill="#fff"/>
</svg></body></html>
